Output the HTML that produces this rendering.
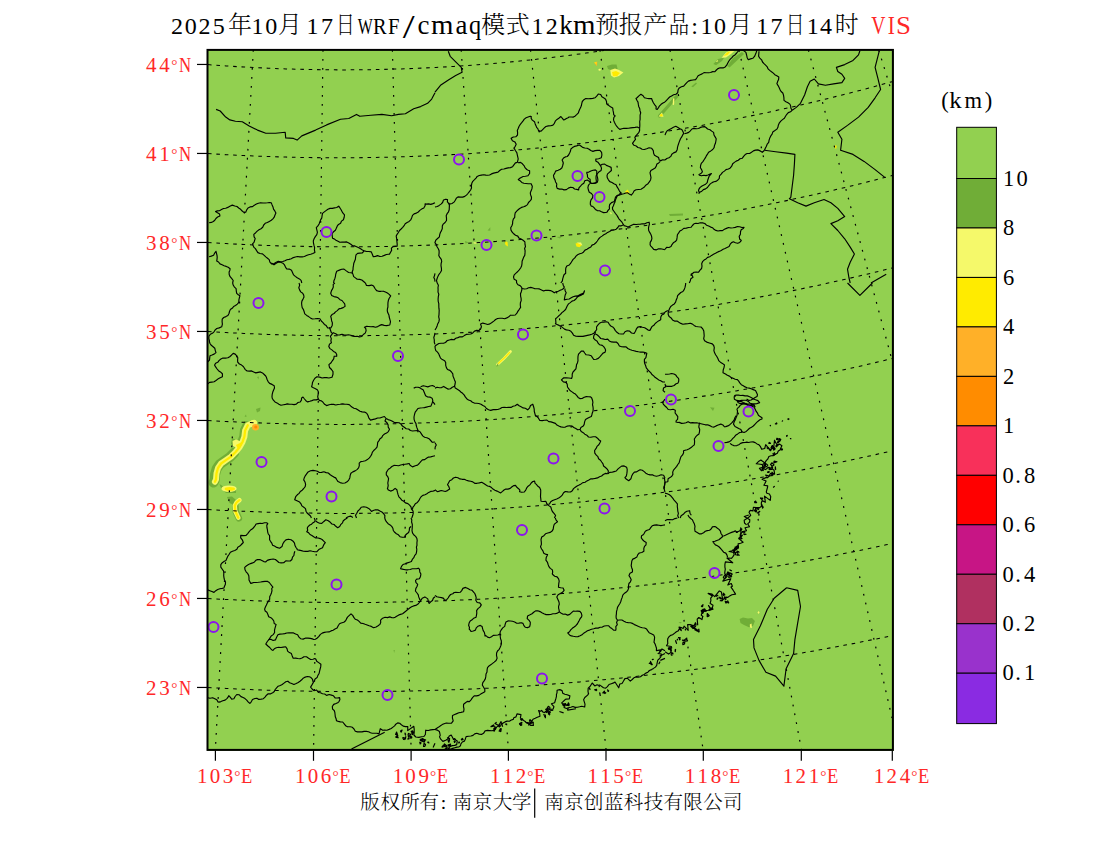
<!DOCTYPE html>
<html><head><meta charset="utf-8"><title>VIS</title>
<style>
html,body{margin:0;padding:0;background:#fff}
body{width:1100px;height:850px;overflow:hidden;position:relative}
svg{position:absolute;left:0;top:0}
text{font-family:"Liberation Serif","Noto Serif CJK SC","Noto Sans CJK SC",serif;font-weight:300}
.t{fill:#000}
.r{fill:#ff2828}
</style></head><body>
<svg width="1100" height="850" viewBox="0 0 1100 850">
<rect x="0" y="0" width="1100" height="850" fill="#fff"/>
<rect x="207" y="49" width="687" height="702" fill="#92d050"/>

<g stroke-linecap="round" stroke-linejoin="round" fill="none">
<polyline points="234.2,452.8 229.6,457.4 224.2,461.2 219.7,464.3 216.6,468.8 215.1,474.2 214.6,480.3 213.5,482.6" stroke="#70ad37" stroke-width="10.0"/>
<polyline points="246.4,424.9 243.7,430.3 243.0,436.4 241.1,441.7 238.0,447.1" stroke="#70ad37" stroke-width="7.5"/>
<polygon points="232.0,438.0 238.0,441.0 244.0,440.0 243.0,446.0 235.0,448.0 231.0,444.0" fill="#70ad37" stroke="none"/>
<polyline points="253.9,422.9 247.8,425.2 245.1,430.6 244.4,436.7 242.5,442.0 239.4,447.4 235.6,452.0 231.0,456.6 225.6,460.4 221.1,463.5 218.0,468.0 216.5,473.4 216.0,479.5 214.9,481.8" stroke="#f5f96a" stroke-width="6.0"/>
<ellipse cx="253.5" cy="422.5" rx="3.5" ry="2.5" fill="#f5f96a" stroke="none"/>
<polygon points="232.5,441.0 236.0,439.5 241.0,441.5 243.0,444.0 238.0,449.0 233.0,446.0" fill="#f5f96a" stroke="none"/>
<polyline points="247.8,425.2 245.1,430.6 244.4,436.7 242.5,442.0 239.4,447.4 235.6,452.0 231.0,456.6 225.6,460.4 221.1,463.5 218.0,468.0 216.5,473.4 216.0,479.5 214.9,481.8" stroke="#ffeb00" stroke-width="2.3"/>
<polygon points="236.0,445.0 241.0,442.5 242.0,445.0 238.0,449.0" fill="#ffeb00" stroke="none"/>
<ellipse cx="255.5" cy="427.3" rx="3.5" ry="3.3" fill="#ffb028" stroke="none"/>
<ellipse cx="255.8" cy="427.0" rx="1.6" ry="1.5" fill="#ff8c00" stroke="none"/>
<polygon points="256.0,409.0 260.5,407.5 260.0,411.0 257.0,412.5" fill="#70ad37" stroke="none"/>
<polygon points="244.5,416.5 246.0,414.5 246.5,417.0" fill="#70ad37" stroke="none"/>
<polygon points="219.5,484.0 224.0,487.0 236.0,489.0 236.0,493.0 226.0,493.0 221.0,488.0" fill="#70ad37" stroke="none"/>
<ellipse cx="229.0" cy="488.7" rx="7.6" ry="3.3" fill="#f5f96a" stroke="none"/>
<ellipse cx="229.8" cy="488.9" rx="5.2" ry="1.8" fill="#ffeb00" stroke="none"/>
<polygon points="227.0,497.0 232.0,496.5 236.0,500.0 234.0,505.0 229.5,503.0" fill="#70ad37" stroke="none"/>
<polyline points="235.4,506.1 235.8,511.6 238.9,518.3" stroke="#70ad37" stroke-width="6.5"/>
<polyline points="239.4,500.2 236.5,502.5 234.8,505.5 235.2,511.0 238.3,517.7" stroke="#f5f96a" stroke-width="4.4"/>
<polyline points="239.4,500.2 236.5,502.5 234.8,505.5 235.2,511.0 238.3,517.7" stroke="#ffeb00" stroke-width="2.2"/>
<polygon points="607.0,66.0 612.0,64.5 616.5,64.4 617.6,69.0 612.0,70.5 608.0,69.0" fill="#70ad37" stroke="none"/>
<polygon points="610.3,70.0 615.0,68.5 619.0,70.0 623.4,72.5 619.0,76.0 614.0,77.5 611.0,75.5" fill="#f5f96a" stroke="none"/>
<polygon points="612.0,72.0 616.0,71.0 620.0,73.0 617.0,76.3 613.0,76.3" fill="#ffeb00" stroke="none"/>
<polygon points="593.9,62.5 597.2,61.4 597.0,66.3" fill="#ffb028" stroke="none"/>
<polygon points="594.5,62.5 596.5,62.0 596.3,64.5" fill="#ffeb00" stroke="none"/>
<ellipse cx="599.6" cy="69.8" rx="1.2" ry="1.0" fill="#f5f96a" stroke="none"/>
<polygon points="742.0,52.0 744.0,54.0 729.5,67.6 727.3,66.0 733.0,58.0" fill="#70ad37" stroke="none"/>
<polygon points="713.4,64.0 718.0,59.0 724.0,57.8 722.0,61.0 716.0,65.2" fill="#70ad37" stroke="none"/>
<polygon points="721.6,57.8 726.0,52.5 730.0,50.8 734.7,50.8 731.0,54.0 726.0,57.5" fill="#f5f96a" stroke="none"/>
<polygon points="723.5,56.0 727.0,52.5 730.5,51.2 727.5,55.0" fill="#ffeb00" stroke="none"/>
<polygon points="715.7,61.8 718.0,59.8 717.6,61.8" fill="#f5f96a" stroke="none"/>
<polygon points="691.3,86.5 696.0,82.4 697.0,83.5 693.0,87.3" fill="#70ad37" stroke="none"/>
<polyline points="677.0,96.0 670.0,104.0 659.5,116.0" stroke="#70ad37" stroke-width="3.2"/>
<polyline points="673.7,99.0 673.4,104.3" stroke="#f5f96a" stroke-width="1.4"/>
<polygon points="658.5,116.5 662.0,112.5 663.5,116.8" fill="#f5f96a" stroke="none"/>
<ellipse cx="661.3" cy="115.3" rx="1.2" ry="1.2" fill="#ffeb00" stroke="none"/>
<polygon points="624.8,192.0 627.5,189.5 629.5,192.5 627.0,194.0" fill="#ffeb00" stroke="none"/>
<polygon points="575.5,243.5 579.0,242.8 582.0,245.0 579.5,247.3 576.5,246.5" fill="#ffeb00" stroke="none"/>
<polygon points="576.5,242.5 581.0,242.5 582.5,245.5" fill="#f5f96a" stroke="none"/>
<polygon points="504.5,241.0 507.5,242.0 508.0,246.5 505.5,245.0" fill="#ffeb00" stroke="none"/>
<polygon points="503.5,240.5 506.0,240.5 505.0,243.0" fill="#70ad37" stroke="none"/>
<polygon points="473.5,242.2 476.8,242.5 476.5,243.8 473.8,243.6" fill="#f5f96a" stroke="none"/>
<polygon points="465.0,241.0 469.0,242.5 465.5,243.5" fill="#70ad37" stroke="none"/>
<polygon points="487.5,230.5 490.3,227.2 490.3,230.8" fill="#70ad37" stroke="none"/>
<polygon points="609.5,212.0 612.0,213.0 611.0,214.5" fill="#f5f96a" stroke="none"/>
<polygon points="556.5,237.0 562.0,236.6 560.0,238.4" fill="#70ad37" stroke="none"/>
<polygon points="470.0,333.5 472.3,331.5 472.0,333.6" fill="#70ad37" stroke="none"/>
<polygon points="669.0,214.0 683.0,213.6 683.0,215.6 670.0,216.0" fill="#70ad37" stroke="none"/>
<polygon points="834.8,145.5 836.6,145.5 836.4,148.6 835.0,148.4" fill="#ffeb00" stroke="none"/>
<polyline points="497.5,364.5 504.0,358.5 510.5,351.5" stroke="#f5f96a" stroke-width="2.6"/>
<polyline points="498.5,363.3 504.5,357.8 509.5,352.5" stroke="#ffeb00" stroke-width="1.3"/>
<polygon points="496.0,366.5 498.0,363.0 498.5,366.0" fill="#70ad37" stroke="none"/>
<polygon points="710.0,407.3 714.5,407.8 713.0,411.0" fill="#70ad37" stroke="none"/>
<polygon points="257.0,377.0 259.0,376.5 258.5,379.5" fill="#70ad37" stroke="none"/>
<polygon points="739.6,619.0 743.0,617.5 748.0,618.5 752.0,618.0 754.9,621.0 753.0,626.0 749.0,627.2 744.0,625.0 740.5,623.0" fill="#70ad37" stroke="none"/>
<polygon points="749.8,624.5 751.5,623.5 752.0,628.0 750.0,627.5" fill="#f5f96a" stroke="none"/>
<polygon points="757.5,612.5 758.6,611.0 759.6,612.6 758.5,614.0" fill="#f5f96a" stroke="none"/>
<polygon points="678.5,622.0 682.0,622.0 680.3,623.6" fill="#70ad37" stroke="none"/>
<polygon points="393.5,650.0 394.8,650.0 394.2,653.0" fill="#70ad37" stroke="none"/>
</g>
<g fill="none" stroke="#000" stroke-width="1.05" stroke-dasharray="3.6,4.8">
<polyline points="208.0,64.6 214.0,65.1 220.0,65.5 226.0,65.9 232.0,66.3 238.0,66.7 244.0,67.0 250.0,67.3 256.0,67.7 262.0,67.9 268.0,68.2 274.0,68.5 280.0,68.7 286.0,68.9 292.0,69.1 298.0,69.3 304.0,69.4 310.0,69.5 316.0,69.6 322.0,69.7 328.0,69.8 334.0,69.8 340.0,69.9 346.0,69.9 352.0,69.8 358.0,69.8 364.0,69.7 370.0,69.7 376.0,69.6 382.0,69.4 388.0,69.3 394.0,69.1 400.0,69.0 406.0,68.8 412.0,68.5 418.0,68.3 424.0,68.0 430.0,67.7 436.0,67.4 442.0,67.1 448.0,66.8 454.0,66.4 460.0,66.0 466.0,65.6 472.0,65.2 478.0,64.7 484.0,64.3 490.0,63.8 496.0,63.3 502.0,62.7 508.0,62.2 514.0,61.6 520.0,61.0 526.0,60.4 532.0,59.8 538.0,59.1 544.0,58.4 550.0,57.7 556.0,57.0 562.0,56.3 568.0,55.5 574.0,54.7 580.0,53.9 586.0,53.1 592.0,52.3 598.0,51.4 604.0,50.5"/>
<polyline points="208.0,153.6 214.0,154.0 220.0,154.3 226.0,154.7 232.0,155.0 238.0,155.3 244.0,155.6 250.0,155.8 256.0,156.1 262.0,156.3 268.0,156.5 274.0,156.7 280.0,156.9 286.0,157.1 292.0,157.2 298.0,157.4 304.0,157.5 310.0,157.6 316.0,157.6 322.0,157.7 328.0,157.7 334.0,157.8 340.0,157.8 346.0,157.7 352.0,157.7 358.0,157.7 364.0,157.6 370.0,157.5 376.0,157.4 382.0,157.3 388.0,157.2 394.0,157.0 400.0,156.8 406.0,156.7 412.0,156.4 418.0,156.2 424.0,156.0 430.0,155.7 436.0,155.4 442.0,155.2 448.0,154.8 454.0,154.5 460.0,154.2 466.0,153.8 472.0,153.4 478.0,153.0 484.0,152.6 490.0,152.2 496.0,151.7 502.0,151.2 508.0,150.8 514.0,150.2 520.0,149.7 526.0,149.2 532.0,148.6 538.0,148.0 544.0,147.4 550.0,146.8 556.0,146.2 562.0,145.6 568.0,144.9 574.0,144.2 580.0,143.5 586.0,142.8 592.0,142.0 598.0,141.3 604.0,140.5 610.0,139.7 616.0,138.9 622.0,138.1 628.0,137.2 634.0,136.4 640.0,135.5 646.0,134.6 652.0,133.7 658.0,132.7 664.0,131.8 670.0,130.8 676.0,129.8 682.0,128.8 688.0,127.8 694.0,126.7 700.0,125.7 706.0,124.6 712.0,123.5 718.0,122.4 724.0,121.2 730.0,120.1 736.0,118.9 742.0,117.7 748.0,116.5 754.0,115.3 760.0,114.0 766.0,112.7 772.0,111.5 778.0,110.1 784.0,108.8 790.0,107.5 796.0,106.1 802.0,104.7 808.0,103.3 814.0,101.9 820.0,100.5 826.0,99.0 832.0,97.5 838.0,96.0 844.0,94.5 850.0,93.0 856.0,91.4 862.0,89.9 868.0,88.3 874.0,86.7 880.0,85.0 886.0,83.4 892.0,81.7 892.0,81.7"/>
<polyline points="208.0,242.5 214.0,242.9 220.0,243.2 226.0,243.6 232.0,243.9 238.0,244.2 244.0,244.5 250.0,244.8 256.0,245.0 262.0,245.3 268.0,245.5 274.0,245.7 280.0,245.9 286.0,246.0 292.0,246.2 298.0,246.3 304.0,246.4 310.0,246.6 316.0,246.6 322.0,246.7 328.0,246.8 334.0,246.8 340.0,246.8 346.0,246.8 352.0,246.8 358.0,246.8 364.0,246.7 370.0,246.7 376.0,246.6 382.0,246.5 388.0,246.4 394.0,246.2 400.0,246.1 406.0,245.9 412.0,245.7 418.0,245.5 424.0,245.3 430.0,245.1 436.0,244.9 442.0,244.6 448.0,244.3 454.0,244.0 460.0,243.7 466.0,243.4 472.0,243.0 478.0,242.6 484.0,242.3 490.0,241.9 496.0,241.4 502.0,241.0 508.0,240.5 514.0,240.1 520.0,239.6 526.0,239.1 532.0,238.6 538.0,238.0 544.0,237.5 550.0,236.9 556.0,236.3 562.0,235.7 568.0,235.1 574.0,234.5 580.0,233.8 586.0,233.1 592.0,232.4 598.0,231.7 604.0,231.0 610.0,230.3 616.0,229.5 622.0,228.7 628.0,227.9 634.0,227.1 640.0,226.3 646.0,225.5 652.0,224.6 658.0,223.7 664.0,222.8 670.0,221.9 676.0,221.0 682.0,220.0 688.0,219.1 694.0,218.1 700.0,217.1 706.0,216.0 712.0,215.0 718.0,214.0 724.0,212.9 730.0,211.8 736.0,210.7 742.0,209.6 748.0,208.4 754.0,207.3 760.0,206.1 766.0,204.9 772.0,203.7 778.0,202.4 784.0,201.2 790.0,199.9 796.0,198.6 802.0,197.3 808.0,196.0 814.0,194.7 820.0,193.3 826.0,191.9 832.0,190.5 838.0,189.1 844.0,187.7 850.0,186.3 856.0,184.8 862.0,183.3 868.0,181.8 874.0,180.3 880.0,178.7 886.0,177.2 892.0,175.6 892.0,175.6"/>
<polyline points="208.0,331.5 214.0,331.9 220.0,332.2 226.0,332.5 232.0,332.9 238.0,333.1 244.0,333.4 250.0,333.7 256.0,333.9 262.0,334.2 268.0,334.4 274.0,334.6 280.0,334.8 286.0,334.9 292.0,335.1 298.0,335.2 304.0,335.4 310.0,335.5 316.0,335.5 322.0,335.6 328.0,335.7 334.0,335.7 340.0,335.7 346.0,335.7 352.0,335.7 358.0,335.7 364.0,335.7 370.0,335.6 376.0,335.5 382.0,335.5 388.0,335.3 394.0,335.2 400.0,335.1 406.0,334.9 412.0,334.8 418.0,334.6 424.0,334.4 430.0,334.2 436.0,333.9 442.0,333.7 448.0,333.4 454.0,333.1 460.0,332.8 466.0,332.5 472.0,332.2 478.0,331.8 484.0,331.5 490.0,331.1 496.0,330.7 502.0,330.3 508.0,329.9 514.0,329.4 520.0,329.0 526.0,328.5 532.0,328.0 538.0,327.5 544.0,326.9 550.0,326.4 556.0,325.8 562.0,325.3 568.0,324.7 574.0,324.1 580.0,323.4 586.0,322.8 592.0,322.2 598.0,321.5 604.0,320.8 610.0,320.1 616.0,319.4 622.0,318.6 628.0,317.9 634.0,317.1 640.0,316.3 646.0,315.5 652.0,314.7 658.0,313.8 664.0,313.0 670.0,312.1 676.0,311.2 682.0,310.3 688.0,309.4 694.0,308.5 700.0,307.5 706.0,306.5 712.0,305.6 718.0,304.5 724.0,303.5 730.0,302.5 736.0,301.4 742.0,300.4 748.0,299.3 754.0,298.2 760.0,297.0 766.0,295.9 772.0,294.7 778.0,293.6 784.0,292.4 790.0,291.2 796.0,290.0 802.0,288.7 808.0,287.4 814.0,286.2 820.0,284.9 826.0,283.6 832.0,282.2 838.0,280.9 844.0,279.5 850.0,278.2 856.0,276.8 862.0,275.3 868.0,273.9 874.0,272.5 880.0,271.0 886.0,269.5 892.0,268.0 892.0,268.0"/>
<polyline points="208.0,420.5 214.0,420.8 220.0,421.2 226.0,421.5 232.0,421.8 238.0,422.0 244.0,422.3 250.0,422.5 256.0,422.8 262.0,423.0 268.0,423.2 274.0,423.4 280.0,423.5 286.0,423.7 292.0,423.8 298.0,424.0 304.0,424.1 310.0,424.2 316.0,424.2 322.0,424.3 328.0,424.3 334.0,424.4 340.0,424.4 346.0,424.4 352.0,424.4 358.0,424.3 364.0,424.3 370.0,424.2 376.0,424.1 382.0,424.0 388.0,423.9 394.0,423.8 400.0,423.7 406.0,423.5 412.0,423.3 418.0,423.1 424.0,422.9 430.0,422.7 436.0,422.5 442.0,422.2 448.0,422.0 454.0,421.7 460.0,421.4 466.0,421.1 472.0,420.8 478.0,420.4 484.0,420.1 490.0,419.7 496.0,419.3 502.0,418.9 508.0,418.5 514.0,418.0 520.0,417.6 526.0,417.1 532.0,416.6 538.0,416.1 544.0,415.6 550.0,415.1 556.0,414.6 562.0,414.0 568.0,413.4 574.0,412.8 580.0,412.2 586.0,411.6 592.0,411.0 598.0,410.3 604.0,409.6 610.0,408.9 616.0,408.2 622.0,407.5 628.0,406.8 634.0,406.0 640.0,405.3 646.0,404.5 652.0,403.7 658.0,402.9 664.0,402.1 670.0,401.2 676.0,400.4 682.0,399.5 688.0,398.6 694.0,397.7 700.0,396.7 706.0,395.8 712.0,394.9 718.0,393.9 724.0,392.9 730.0,391.9 736.0,390.9 742.0,389.8 748.0,388.8 754.0,387.7 760.0,386.6 766.0,385.5 772.0,384.4 778.0,383.3 784.0,382.1 790.0,381.0 796.0,379.8 802.0,378.6 808.0,377.4 814.0,376.1 820.0,374.9 826.0,373.6 832.0,372.3 838.0,371.0 844.0,369.7 850.0,368.4 856.0,367.0 862.0,365.7 868.0,364.3 874.0,362.9 880.0,361.5 886.0,360.0 892.0,358.6 892.0,358.6"/>
<polyline points="208.0,509.5 214.0,509.8 220.0,510.2 226.0,510.5 232.0,510.7 238.0,511.0 244.0,511.3 250.0,511.5 256.0,511.7 262.0,512.0 268.0,512.2 274.0,512.3 280.0,512.5 286.0,512.7 292.0,512.8 298.0,512.9 304.0,513.0 310.0,513.1 316.0,513.2 322.0,513.3 328.0,513.3 334.0,513.4 340.0,513.4 346.0,513.4 352.0,513.4 358.0,513.4 364.0,513.3 370.0,513.3 376.0,513.2 382.0,513.1 388.0,513.0 394.0,512.9 400.0,512.8 406.0,512.6 412.0,512.5 418.0,512.3 424.0,512.1 430.0,511.9 436.0,511.7 442.0,511.5 448.0,511.2 454.0,510.9 460.0,510.7 466.0,510.4 472.0,510.1 478.0,509.8 484.0,509.4 490.0,509.1 496.0,508.7 502.0,508.3 508.0,507.9 514.0,507.5 520.0,507.1 526.0,506.6 532.0,506.2 538.0,505.7 544.0,505.2 550.0,504.7 556.0,504.2 562.0,503.7 568.0,503.1 574.0,502.6 580.0,502.0 586.0,501.4 592.0,500.8 598.0,500.2 604.0,499.5 610.0,498.9 616.0,498.2 622.0,497.5 628.0,496.8 634.0,496.1 640.0,495.4 646.0,494.7 652.0,493.9 658.0,493.1 664.0,492.3 670.0,491.5 676.0,490.7 682.0,489.9 688.0,489.0 694.0,488.2 700.0,487.3 706.0,486.4 712.0,485.5 718.0,484.5 724.0,483.6 730.0,482.6 736.0,481.7 742.0,480.7 748.0,479.7 754.0,478.7 760.0,477.6 766.0,476.6 772.0,475.5 778.0,474.4 784.0,473.3 790.0,472.2 796.0,471.1 802.0,470.0 808.0,468.8 814.0,467.6 820.0,466.4 826.0,465.2 832.0,464.0 838.0,462.8 844.0,461.5 850.0,460.2 856.0,458.9 862.0,457.6 868.0,456.3 874.0,455.0 880.0,453.6 886.0,452.3 892.0,450.9 892.0,450.9"/>
<polyline points="208.0,598.5 214.0,598.8 220.0,599.2 226.0,599.5 232.0,599.7 238.0,600.0 244.0,600.3 250.0,600.5 256.0,600.8 262.0,601.0 268.0,601.2 274.0,601.4 280.0,601.5 286.0,601.7 292.0,601.8 298.0,602.0 304.0,602.1 310.0,602.2 316.0,602.3 322.0,602.4 328.0,602.4 334.0,602.5 340.0,602.5 346.0,602.5 352.0,602.5 358.0,602.5 364.0,602.5 370.0,602.4 376.0,602.4 382.0,602.3 388.0,602.2 394.0,602.1 400.0,602.0 406.0,601.9 412.0,601.8 418.0,601.6 424.0,601.4 430.0,601.3 436.0,601.1 442.0,600.8 448.0,600.6 454.0,600.4 460.0,600.1 466.0,599.9 472.0,599.6 478.0,599.3 484.0,599.0 490.0,598.6 496.0,598.3 502.0,597.9 508.0,597.6 514.0,597.2 520.0,596.8 526.0,596.4 532.0,595.9 538.0,595.5 544.0,595.0 550.0,594.6 556.0,594.1 562.0,593.6 568.0,593.1 574.0,592.6 580.0,592.0 586.0,591.4 592.0,590.9 598.0,590.3 604.0,589.7 610.0,589.1 616.0,588.4 622.0,587.8 628.0,587.1 634.0,586.5 640.0,585.8 646.0,585.1 652.0,584.4 658.0,583.6 664.0,582.9 670.0,582.1 676.0,581.3 682.0,580.6 688.0,579.7 694.0,578.9 700.0,578.1 706.0,577.2 712.0,576.4 718.0,575.5 724.0,574.6 730.0,573.7 736.0,572.8 742.0,571.8 748.0,570.9 754.0,569.9 760.0,568.9 766.0,567.9 772.0,566.9 778.0,565.9 784.0,564.8 790.0,563.8 796.0,562.7 802.0,561.6 808.0,560.5 814.0,559.4 820.0,558.3 826.0,557.1 832.0,556.0 838.0,554.8 844.0,553.6 850.0,552.4 856.0,551.2 862.0,549.9 868.0,548.7 874.0,547.4 880.0,546.1 886.0,544.8 892.0,543.5 892.0,543.5"/>
<polyline points="208.0,687.5 214.0,687.8 220.0,688.1 226.0,688.4 232.0,688.7 238.0,689.0 244.0,689.3 250.0,689.5 256.0,689.8 262.0,690.0 268.0,690.2 274.0,690.4 280.0,690.6 286.0,690.7 292.0,690.9 298.0,691.0 304.0,691.1 310.0,691.2 316.0,691.3 322.0,691.4 328.0,691.5 334.0,691.5 340.0,691.6 346.0,691.6 352.0,691.6 358.0,691.6 364.0,691.6 370.0,691.6 376.0,691.5 382.0,691.5 388.0,691.4 394.0,691.3 400.0,691.2 406.0,691.1 412.0,691.0 418.0,690.8 424.0,690.7 430.0,690.5 436.0,690.3 442.0,690.2 448.0,689.9 454.0,689.7 460.0,689.5 466.0,689.2 472.0,689.0 478.0,688.7 484.0,688.4 490.0,688.1 496.0,687.8 502.0,687.5 508.0,687.1 514.0,686.7 520.0,686.4 526.0,686.0 532.0,685.6 538.0,685.2 544.0,684.7 550.0,684.3 556.0,683.8 562.0,683.4 568.0,682.9 574.0,682.4 580.0,681.9 586.0,681.3 592.0,680.8 598.0,680.2 604.0,679.7 610.0,679.1 616.0,678.5 622.0,677.9 628.0,677.3 634.0,676.6 640.0,676.0 646.0,675.3 652.0,674.6 658.0,673.9 664.0,673.2 670.0,672.5 676.0,671.8 682.0,671.0 688.0,670.2 694.0,669.5 700.0,668.7 706.0,667.9 712.0,667.0 718.0,666.2 724.0,665.3 730.0,664.5 736.0,663.6 742.0,662.7 748.0,661.8 754.0,660.9 760.0,659.9 766.0,659.0 772.0,658.0 778.0,657.1 784.0,656.1 790.0,655.0 796.0,654.0 802.0,653.0 808.0,651.9 814.0,650.9 820.0,649.8 826.0,648.7 832.0,647.6 838.0,646.5 844.0,645.3 850.0,644.2 856.0,643.0 862.0,641.8 868.0,640.6 874.0,639.4 880.0,638.2 886.0,637.0 892.0,635.7 892.0,635.7"/>
</g><g fill="none" stroke="#000" stroke-width="1.2" stroke-dasharray="1.8,7.2">
<polyline points="253.3,50.0 215.4,749.0"/>
<polyline points="323.0,50.0 313.6,749.0"/>
<polyline points="392.4,50.0 411.1,749.0"/>
<polyline points="461.2,50.0 508.3,749.0"/>
<polyline points="530.5,50.0 606.0,749.0"/>
<polyline points="599.9,50.0 703.0,749.0"/>
<polyline points="670.0,50.0 801.3,749.0"/>
<polyline points="739.0,50.0 892.0,718.0"/>
<polyline points="808.4,50.0 892.0,360.2"/>
<polyline points="878.7,50.0 892.0,92.9"/>
</g>
<g fill="none" stroke="#000" stroke-width="1.15" stroke-linejoin="round">
<polyline points="216.1,109.4 220.2,111.0 225.7,117.1 229.9,119.9 235.4,121.3 242.3,121.8 249.2,126.0 257.5,130.1 265.8,133.2 275.5,133.2 285.2,132.3 285.7,137.9 293.5,138.4 297.1,140.1 301.8,135.9 315.6,130.1 326.6,124.9 340.5,119.3 348.8,118.5 356.5,114.4 359.8,116.3 370.9,115.2 381.9,114.4 391.6,115.7 398.5,114.4 405.4,113.8 413.7,108.8 420.6,106.6 427.6,103.3 431.7,99.1 435.0,92.8"/>
<polyline points="209.1,222.7 211.3,222.4 213.3,221.5 214.8,220.2 215.9,218.5 217.6,217.0 219.9,215.9 219.6,214.0 217.5,212.8 215.5,211.5 217.3,210.9 219.5,210.7 221.5,209.6 223.5,208.5 225.7,208.2 227.8,207.4 229.8,206.2 232.3,205.1 234.8,206.0 237.0,206.5 238.7,208.0 240.6,209.3 242.2,211.0 243.9,212.4 245.7,212.3 246.7,209.9 248.0,208.0 250.0,206.9 252.5,206.6 254.3,205.2 256.4,204.1 258.4,203.2 260.6,202.7 263.0,203.0 265.3,203.0 267.5,202.8 269.7,202.5 271.3,202.9 272.1,204.9 273.0,206.9 273.5,209.1 274.8,210.9 275.9,213.0 274.9,215.2 274.2,217.2 272.9,218.9 271.3,220.3 269.3,221.4 267.3,222.5 265.2,223.3 263.7,225.0 262.7,227.3 261.0,228.7 259.0,229.8 257.2,231.1 255.7,232.7 253.8,234.4 254.1,236.9 255.2,238.5 254.7,240.1 254.0,242.3 252.5,243.9 253.2,245.7 254.0,247.4 255.4,248.6 256.6,250.6 257.9,252.6 260.0,253.5 262.5,253.9 264.2,255.4 265.8,256.9 267.5,258.2 269.2,259.6 269.9,262.2 271.7,264.0 274.2,263.5 276.2,262.3 278.3,261.4 280.6,261.8 282.8,261.5 284.9,260.7 286.9,259.7 289.1,259.4 291.3,258.8 293.3,257.6 295.4,257.0 297.5,256.5 299.9,256.9 302.2,256.9 304.4,256.5 306.4,255.6 308.5,254.7 310.7,254.3 312.8,253.5 314.9,252.4 314.4,249.8 314.6,247.6 314.0,245.4 313.5,243.1 313.3,240.9 314.1,238.7 315.3,236.6 316.8,234.6 317.4,232.4 316.9,230.1 316.3,227.7 317.9,225.9 319.1,224.0 319.8,221.9 320.6,219.9 321.8,217.9 322.1,215.7 322.5,213.4 324.3,211.9 326.0,210.6 327.9,209.3 330.0,208.4 332.3,208.4 334.5,207.9 336.7,207.5 338.7,206.2 339.8,207.7 341.1,209.7 342.0,211.4 342.8,212.9 344.5,214.8 344.2,217.3 343.4,219.7 341.5,221.1 340.6,223.2 338.5,224.4 337.2,226.2 336.3,228.3 335.4,230.2 333.5,231.8 332.0,233.7 332.3,236.2 332.5,238.3 334.2,238.9 336.0,240.2 338.0,241.2 339.9,242.3 342.2,242.0 344.4,242.1 346.7,241.9 348.8,243.0 350.8,244.2 352.6,245.7 354.8,245.9 356.7,246.8 358.8,247.7 360.6,248.8 362.4,250.0 364.4,250.9 366.5,251.5 368.8,251.5 371.3,251.9 372.4,254.5 373.3,256.7 375.5,256.4 377.6,255.6 379.9,256.5 382.1,256.2 384.3,255.4 386.4,254.5 388.4,254.2 389.5,254.1 390.4,252.5 391.6,250.4 391.4,248.1 392.9,246.8 395.1,246.4 397.1,246.2 397.2,244.1 397.0,242.4 396.8,240.4 396.6,238.1 396.2,236.1 397.1,234.3 398.4,232.5 399.5,230.5 401.1,229.0 402.7,227.4 404.1,225.7 405.2,223.8 407.1,222.5 409.1,221.4 410.7,219.9 411.7,217.7 412.5,215.4 414.1,213.9 416.4,213.1 418.3,212.0 419.8,210.4 421.6,209.1 423.8,208.0 425.1,205.8 425.1,203.8 426.4,204.1 428.6,203.9 430.8,204.4 433.0,203.6 435.0,202.8"/>
<polyline points="271.4,263.1 274.0,264.8 275.8,263.6 278.3,262.1 280.6,262.3 282.9,263.2 284.5,264.9 285.5,267.1 286.7,269.0 289.3,269.1 291.5,270.2 292.6,272.7 293.6,274.9 295.3,276.4 297.2,277.8 299.4,278.9 301.1,280.4 301.8,283.0"/>
<polyline points="364.0,251.2 362.2,253.0 359.9,253.1 357.6,253.4 356.0,254.9 355.6,257.0 355.4,259.3 354.6,261.3 353.8,263.2 353.5,265.4 353.1,267.6 353.0,269.8 352.1,272.2 353.0,274.4 353.7,276.6 355.4,277.9 357.2,279.3 359.7,279.4 361.8,280.0 363.6,281.5 365.4,283.0"/>
<polyline points="333.6,283.0 333.9,280.8 334.8,278.7 335.4,276.6 335.7,274.3 336.7,271.3 339.4,270.1 341.7,269.3 344.0,269.1 346.3,270.9 348.6,272.5 350.7,272.7 352.9,273.3"/>
<polyline points="209.1,256.7 211.3,256.1 213.6,255.3 214.7,253.1 216.0,251.3 216.5,253.3 217.0,255.4 217.2,257.2 217.0,259.3 216.7,261.0 218.5,262.0 220.0,263.9 222.1,264.7 224.1,265.8 226.2,266.4 228.2,267.3 230.1,268.7 229.9,270.2 229.1,272.0 229.2,274.5 230.1,276.7 231.8,278.6 233.2,280.5 232.6,283.0"/>
<polyline points="435.0,273.3 434.5,275.6 433.8,277.5 434.7,279.2 435.0,281.6"/>
<polyline points="435.0,92.2 440.5,85.3 448.8,79.8 455.7,75.6 462.1,72.3 461.3,67.4 455.7,61.8 450.2,56.3 448.3,51.3"/>
<polyline points="435.0,207.0 437.3,206.5 439.2,205.4 441.0,204.1 442.6,202.5 443.5,200.0 445.8,199.2 447.5,199.6 447.4,201.9 449.3,204.1 452.0,203.5 454.0,202.1 455.3,200.2 456.3,198.2 458.0,196.9 460.4,197.1 462.7,197.1 464.8,196.4 466.7,194.9 467.9,193.5 469.2,191.8 470.6,190.0 471.5,188.0 471.4,185.6 471.8,183.3 472.8,181.3 474.5,179.7 476.0,178.1 477.2,176.4 479.2,175.5 481.4,175.1 483.7,174.8 485.9,175.1 487.6,175.2 489.6,175.0 491.5,173.9 493.6,173.1 495.8,172.6 498.0,172.1 499.7,170.5 501.6,169.2 503.9,169.0 506.0,168.4 508.1,167.9 510.4,167.6 512.6,166.7 513.9,164.9 515.4,162.9 517.3,162.4 517.8,160.6 518.2,158.8 517.8,157.1 517.3,154.9 516.8,152.6 515.5,150.7 514.6,149.0 513.9,148.2 515.1,146.6 516.2,144.2 514.9,141.9 512.4,140.7 511.1,138.3 513.3,137.0 515.8,136.8 517.5,135.0 517.6,132.6 517.3,130.4 518.3,128.3 519.1,126.2 520.3,124.4 521.7,122.7 523.1,120.9 524.3,119.1 526.1,117.8 528.1,117.0 530.2,116.2 531.3,116.5 531.1,118.2 532.3,120.1 534.5,121.7 535.2,123.9 536.1,125.9 536.6,127.4 537.8,128.6 538.7,131.1 541.1,131.1 542.9,129.3 544.3,127.9 545.9,126.5 548.3,125.9 550.8,125.7 552.9,125.1 554.4,123.3 555.5,120.8 557.0,119.4 558.8,118.2 560.9,116.5 562.6,118.6 563.6,119.9 564.5,119.8 566.4,118.5 568.1,117.7 569.0,117.0 571.2,117.0 573.4,117.1 575.3,115.9 576.9,114.4 578.4,112.9 578.8,111.5 579.5,109.7 580.6,107.6 581.4,105.5 581.8,103.4 582.3,101.5 583.9,99.7 585.8,98.5 588.4,98.8 590.6,98.6 592.8,98.4 595.0,97.8 596.7,96.2 598.3,94.0 600.7,94.5 601.9,96.8 603.9,97.9 605.6,99.3 606.5,101.5 606.7,104.0 608.6,105.4 610.5,106.8 612.7,107.9 613.0,110.4 613.5,112.6 613.7,114.8 615.2,115.9 613.9,117.3 613.5,119.6 613.7,120.4 614.4,122.3 615.4,124.3 616.6,126.2 618.1,127.8 619.8,129.4 621.9,128.7 624.0,128.2 626.3,128.4 628.5,128.3 630.7,127.9 632.9,127.6 635.1,127.4 637.3,127.0 639.6,128.2"/>
<polyline points="639.6,128.2 639.8,126.0 639.8,123.7 639.7,121.5 640.1,119.5 640.1,117.3 640.1,115.1 640.7,112.8 640.0,110.7 639.7,108.5 638.7,106.4 638.3,104.2 638.0,102.1 636.9,100.3 636.0,98.5 637.3,97.5 638.9,95.9 640.9,94.3 643.1,95.8 644.4,97.8 646.6,98.3 648.9,98.6 651.6,98.5 652.5,101.1 653.5,103.0 654.8,104.8 656.2,106.6 656.0,109.0 657.2,109.5 658.5,107.6 659.6,105.8 661.1,104.3 663.0,103.0 665.0,101.9"/>
<polyline points="639.6,128.2 639.6,130.5 638.8,132.6 637.4,134.2 635.9,135.9 634.8,137.3 635.5,139.4 633.9,141.4 632.5,143.4 634.0,145.3 636.2,146.0 637.9,147.5 640.1,148.0 642.1,149.3 644.3,149.5 646.7,148.8 649.1,147.8 651.7,148.3 653.3,150.6 653.6,153.3 654.5,155.2 656.7,156.4 658.6,157.6 659.2,160.0 660.9,160.6 662.7,159.8 665.0,160.0"/>
<polyline points="660.3,161.4 658.7,162.9 656.9,164.0 656.2,166.3 655.1,168.1 653.1,169.3 650.9,170.6 650.0,172.7 650.5,175.2 651.0,177.6 650.6,179.7 649.5,181.7 648.0,183.7 646.1,184.9 644.6,186.7 642.9,188.1 641.0,189.2 638.6,189.5 636.1,189.8 634.2,190.8 633.0,193.0 631.3,195.1 629.1,193.9 627.5,192.8 625.8,193.0 623.8,193.8 621.7,194.2 619.6,195.0 617.4,195.6 616.4,197.7 615.5,199.7 615.0,201.9 614.1,203.8 613.4,205.8 612.4,207.7 612.7,209.7 614.1,211.5 615.3,213.3 616.7,215.0 617.8,216.9 618.9,218.8 620.3,220.3 621.7,221.8 622.9,223.7 624.1,225.6 626.2,226.3 628.1,227.0 629.7,226.2 631.6,225.2 633.8,224.2 636.2,224.5 638.3,224.2 640.5,224.1 642.6,223.8 644.9,223.8 646.9,222.7 649.1,222.2 649.4,224.2 648.8,226.3 648.5,228.2 648.7,230.5 649.7,232.4 650.8,234.3 651.6,236.4 651.9,238.6 651.3,240.6 650.2,242.4 650.1,244.7 650.6,245.8 652.1,247.3 653.7,249.4 656.1,249.9 658.5,248.8 660.7,248.8 662.9,249.3 665.0,249.8"/>
<polyline points="553.9,177.9 553.5,175.3 554.7,173.4 555.6,171.1 558.2,170.3 560.3,169.2 562.0,167.7 562.7,165.5 563.3,163.0 562.7,161.3 562.1,160.0 563.5,158.1 565.3,156.9 567.2,156.5 568.6,155.0 569.6,153.0 570.5,151.0 570.9,149.0 572.5,147.6 574.4,146.4 576.6,145.9 578.5,145.2 579.4,145.0 580.9,146.0 582.6,147.4 584.8,148.0 587.2,148.3 589.1,149.2 590.8,150.5 592.9,151.4 595.1,150.6 597.4,150.4 599.9,150.4 601.6,152.3 601.9,155.0 601.3,157.7 598.6,158.8 595.8,159.1 595.8,160.9 597.9,162.2 599.2,163.9 600.6,165.8 601.5,168.1 601.1,170.5 598.7,172.1 597.1,174.0 596.1,176.1 596.0,178.4 596.3,180.7 596.3,182.6 594.9,183.1 592.8,183.5 590.6,183.3 589.3,181.4 587.3,180.0 584.8,180.8 583.8,183.2 581.9,184.5 580.5,186.2 578.9,187.9 578.6,190.0 576.8,189.4 574.6,189.0 572.8,187.5 570.5,187.2 568.4,188.1 566.4,189.6 564.0,189.9 561.8,189.0 559.6,189.1 557.2,188.4 556.5,186.3 556.8,184.0 555.6,182.0 555.0,179.9 553.9,177.9"/>
<polyline points="586.5,172.4 588.8,172.1 590.9,171.0 593.0,170.2 595.4,169.9 596.8,171.1 596.7,173.4 597.0,175.6 597.6,177.9 597.9,180.1 597.3,182.3 595.8,182.9 593.5,183.4 591.2,183.4 590.2,181.5 590.1,179.3 588.6,178.5 587.5,177.0 587.4,174.7 586.5,172.4"/>
<polyline points="600.3,165.5 602.3,164.3 604.7,164.1 606.4,165.4 608.6,166.3 611.1,167.4 611.4,170.5 609.3,172.4 607.6,173.9 607.0,175.6 607.3,177.8 608.4,179.8 609.8,181.6 612.0,182.5 613.9,183.7 616.1,184.7 617.1,186.9 618.3,188.8 619.3,190.7 620.7,192.9 619.2,194.7 617.0,195.6 615.5,197.2 614.9,199.3 614.3,201.5 611.5,202.6 609.7,204.5 609.3,206.6 609.5,208.9 607.9,210.5 607.2,211.9 605.9,212.5 603.6,212.6 601.5,211.8 599.6,210.8 597.3,210.6 595.4,209.4 594.0,207.7 592.6,206.3 591.3,206.2 590.3,204.2 590.4,202.0 591.0,199.8 592.5,197.8 592.9,195.5 591.5,193.5 589.3,192.2 588.4,190.0 587.9,187.7 588.4,185.4 589.8,183.5"/>
<polyline points="517.9,162.7 520.6,162.4 522.4,163.8 524.0,165.6 525.2,167.9 526.8,169.5 528.2,170.2 529.6,170.7 529.6,173.5 528.0,175.7 525.4,176.2 523.1,176.5 521.2,177.5 519.4,178.6 518.3,179.5 518.4,179.7 520.2,180.8 521.8,182.4 523.8,183.3 526.0,183.5 528.2,183.8 531.1,183.7 532.3,186.3 531.9,188.9 530.9,191.3 530.3,192.9 530.6,194.9 531.5,197.3 531.3,199.4 530.1,200.9 528.5,202.5 527.5,204.6 525.8,205.9 523.7,206.7 521.5,207.4 519.7,208.5 518.4,209.5 516.7,211.1 515.2,212.9 514.8,215.1 514.7,217.4 513.3,219.2 512.7,221.3 512.6,223.6 511.9,225.7 510.7,227.8 511.0,230.1 512.2,232.2 513.7,233.8 515.5,235.3 517.8,236.1 518.9,238.1 521.1,239.1 523.1,240.3 524.9,241.9 525.0,244.4 525.5,246.6 524.6,248.5 525.1,250.7 525.0,252.9 524.8,255.2 523.7,257.1 522.9,259.2 522.1,261.3 522.0,263.7 521.6,266.0 520.6,268.0 519.2,269.8 517.8,271.5 516.0,273.1 514.2,274.8 513.5,277.0 514.2,279.3 516.5,280.4 516.6,283.0"/>
<polyline points="623.0,224.9 620.8,225.9 618.9,225.7 617.8,227.5 616.2,229.2 614.0,230.0 611.5,230.2 609.6,231.4 607.6,232.4 605.8,233.8 603.8,234.8 602.0,236.1 600.1,237.4 598.6,239.0 597.3,241.0 595.9,242.8 594.2,244.2 592.0,245.1 590.8,247.0 588.8,248.1 587.0,249.3 585.0,250.1 583.4,252.2 581.7,253.2 579.7,253.8 577.6,254.8 576.0,256.1 574.8,257.9 573.1,259.4 571.9,261.3 570.7,263.2 569.3,265.0 566.8,266.0 565.8,268.0 565.6,270.6 565.7,273.2 564.0,274.7 563.3,276.8 562.7,278.9 562.3,281.1 560.8,283.0"/>
<polyline points="448.8,202.8 449.4,205.3 449.3,207.5 449.2,209.8 448.5,211.8 447.1,213.7 446.2,215.8 446.5,218.1 446.5,220.5 445.1,222.5 443.2,224.1 442.3,226.1 442.3,228.5 441.5,230.6 440.4,232.5 439.7,234.6 439.4,236.9 437.6,238.5 435.8,240.2 434.9,242.6 436.4,244.7 437.0,246.8 438.3,248.7 439.1,250.8 439.1,253.1 438.8,255.5 439.8,257.4 441.3,259.3 441.7,261.5 441.1,263.7 441.0,265.7 441.4,268.1 441.5,270.5 440.4,272.5 439.0,274.3 437.9,276.4 437.1,278.5 436.5,280.6 437.2,283.0"/>
<polyline points="759.0,51.3 758.8,53.7 758.6,56.2 759.8,58.1 761.6,59.8 762.5,62.0 764.0,63.7 765.6,65.2 767.2,66.8 768.1,68.9 769.7,70.4 771.5,71.8 773.3,73.1 774.8,74.7 776.8,75.8 778.8,77.1 778.6,79.5 777.6,81.6 776.9,83.7 778.1,85.6 779.1,87.6 780.0,89.6 781.1,91.5 782.8,93.0 783.5,95.2 783.9,97.7 784.0,100.4 785.9,101.7 788.0,102.8 789.9,104.1 790.7,106.1 790.9,108.3 792.2,110.2"/>
<polyline points="792.2,110.2 796.3,107.4 800.5,103.3 804.6,95.0 807.4,86.7 810.1,81.2 814.3,79.0 818.4,83.9 825.4,85.3 833.6,83.9 841.9,82.6 844.7,78.4 841.9,74.3 837.8,71.5 836.4,67.4 844.7,64.6 853.0,60.4 858.5,54.9 859.9,50.8"/>
<polyline points="792.2,110.2 790.6,111.8 788.3,112.6 786.8,114.3 785.5,116.2 784.4,118.2 782.5,119.6 780.8,121.1 779.4,122.8 778.4,124.9 777.9,127.3 776.9,129.1 774.9,130.5 772.8,131.9 772.1,134.1 770.8,135.9 769.8,137.9 769.1,140.1 768.7,142.4 767.2,144.1 766.4,146.2 765.3,148.2 764.5,150.3"/>
<polyline points="665.0,160.0 666.8,158.5 669.0,157.8 670.8,156.4 671.8,154.3 673.6,152.9 676.0,151.9 677.2,149.8 677.5,147.4 678.1,145.2 678.8,143.1 679.6,140.9 680.5,138.8 681.7,136.9 682.7,134.9 683.7,133.4 682.9,131.5 681.8,129.5 679.9,128.7 678.0,127.5 675.8,126.3 673.4,127.3 671.4,128.4 669.4,129.6 667.2,130.7 665.9,132.7 665.0,135.1"/>
<polyline points="684.4,133.7 686.7,133.1 688.7,132.4 690.1,131.1 691.9,129.0 693.8,128.4 696.3,128.8 698.6,128.5 700.4,127.4 702.4,126.9 704.5,126.6 706.0,127.5 707.6,129.0 710.0,129.7 711.7,131.1 713.6,132.4 714.0,135.0 715.1,136.9 716.2,138.8 715.9,141.0 715.4,143.3 714.5,145.4 714.1,147.7 712.7,149.5 710.8,150.9 708.6,152.2 707.5,154.1 706.3,155.9 705.3,157.9 704.1,159.7 702.9,161.6 701.3,163.3 700.6,165.5 700.4,167.8 701.6,169.6 702.4,171.8 701.0,173.5 699.0,174.6 699.4,175.3 701.5,175.8 703.8,175.3 706.0,175.6 708.0,175.0 710.1,174.1 711.5,173.6 710.3,174.8 709.0,176.5 708.4,178.3 707.7,180.3 707.2,182.7 705.6,184.2 703.5,185.2 701.6,186.3 699.9,187.6 698.8,189.4 698.5,191.0 699.3,192.0 698.9,193.3 699.7,192.3 701.8,191.2 703.4,189.6 705.6,188.9 707.4,187.5 708.8,185.6 710.3,183.9 712.1,182.6 713.9,181.8 716.1,181.4 717.9,180.0 719.3,178.3 719.5,175.8 721.2,174.2 722.5,172.4 724.4,171.1 726.0,169.6 728.4,169.0 730.3,167.9 731.7,166.2 732.7,163.8 734.4,162.4 736.2,161.1 738.3,160.3 740.0,158.8 742.2,158.3 743.6,156.4 745.2,154.6 747.1,153.5 749.6,153.5 751.5,152.3 753.4,150.9 755.5,150.1 757.8,149.9 760.2,150.9 762.3,152.3 764.5,150.3"/>
<polyline points="764.5,150.3 775.6,151.7 786.6,153.1 794.9,154.4 794.4,164.1 793.6,175.2 792.2,186.2 790.8,197.3 789.4,198.7 797.7,202.8 806.0,206.1 814.3,202.8 824.0,199.5 830.9,202.8 837.8,208.4 844.7,216.6 837.8,220.8 830.9,223.6 837.8,230.5 844.7,238.8 850.2,247.1 854.4,254.0 850.2,262.3 847.5,269.2 848.9,277.5 850.2,283.0"/>
<polyline points="879.3,50.8 875.1,67.4 877.9,78.4 880.6,89.5 875.1,97.8 868.2,107.4 858.5,117.1 847.5,125.4 837.8,132.3 841.9,139.2 840.6,150.3 853.0,154.4 864.1,161.4 875.1,169.6 884.8,177.4"/>
<polyline points="871.0,283.0 877.9,278.9 886.2,274.2"/>
<polyline points="665.0,249.3 666.6,247.3 669.0,247.5 671.0,246.6 672.0,244.6 673.3,242.8 675.4,241.6 676.7,239.8 677.1,237.4 677.4,234.8 678.7,232.9 679.9,231.0 681.9,229.9 683.8,228.4 686.3,228.1 688.6,227.5 691.0,227.3 692.4,225.5 694.0,223.8 696.0,223.2 698.0,223.5 700.3,222.7 702.6,222.9 704.8,223.5 706.5,225.2 708.7,226.0 710.7,227.1 712.5,227.7 714.0,229.3 715.9,230.4 718.0,231.0 720.2,230.6 722.5,230.6 724.4,229.3 726.5,228.4 728.6,227.5 730.9,228.0 733.2,227.8 735.3,227.4 737.5,226.5 739.7,226.7 741.9,227.5 744.0,227.4 743.3,228.5 741.2,229.8 740.5,231.8 740.4,234.3 739.2,236.4 739.7,239.2 740.9,239.9 741.3,240.7 739.7,242.4 737.7,243.3 735.4,242.8 733.4,241.8 731.6,242.6 730.2,244.2 729.1,246.5 727.0,247.5 725.0,248.5 723.1,249.3 721.2,250.4 719.1,251.4 717.3,252.2 715.5,253.3 713.5,254.3 711.6,255.4 709.7,256.7 707.6,257.4 706.0,258.9 704.1,260.1 702.5,261.7 701.7,263.7 702.0,266.1 701.6,268.5 700.0,270.2 698.6,272.2 696.2,272.0 694.0,272.3 692.2,273.7 691.0,275.3 691.3,273.8 691.8,274.8 693.0,277.3 690.8,278.8 690.2,281.0 689.3,283.0"/>
<polyline points="232.6,283.0 233.3,285.3 234.5,287.1 236.1,288.6 236.3,291.1 236.7,293.4 238.3,294.8 239.9,295.8 239.4,297.7 238.9,299.9 238.8,302.3 237.3,304.1 235.5,305.5 233.6,306.5 232.5,308.1 230.3,309.6 229.5,311.5 229.0,313.5 227.9,315.6 225.9,316.6 223.7,317.5 222.2,319.2 222.1,321.7 222.4,324.2 221.7,326.8 219.2,327.9 216.8,328.5 215.2,329.9 214.0,331.8 212.4,333.3 210.3,334.3 209.0,336.0 208.8,338.3 209.4,340.6 209.5,342.0 210.0,343.5 211.3,345.3 213.1,346.7 214.8,348.2 215.3,350.6 216.0,352.6 214.1,354.1 212.0,355.0 210.0,355.8 209.7,357.9 209.5,360.0 207.8,361.8"/>
<polyline points="207.8,383.9 209.5,382.4 211.8,382.1 214.1,381.8 216.0,380.5 217.8,379.1 219.7,378.1 222.4,376.8 222.4,373.7 220.4,371.9 218.5,370.7 217.1,369.0 215.8,367.2 214.6,365.1 215.6,363.2 217.7,362.3 219.2,360.4 220.9,359.0 222.9,358.1 225.5,358.1 227.9,357.8 229.7,356.7 231.4,355.2 233.2,353.4 235.2,354.1 236.7,355.8 237.8,357.7 237.6,359.9 237.7,362.1 239.4,364.0 241.6,365.1 243.3,366.5 244.3,368.0 245.3,369.6 247.1,371.0 249.4,371.1 251.6,370.9 253.7,372.0 255.8,372.9 258.1,372.4 260.4,371.9 262.5,372.9 264.2,374.5 265.7,376.0 266.5,377.6 267.1,379.5 268.1,381.6 269.6,383.4 272.0,384.4 274.2,385.7 274.5,388.0 273.5,390.2 272.7,392.3 272.2,394.4 272.0,396.6 272.2,398.3 273.4,400.2 275.0,401.9 277.0,402.9 278.9,404.2 280.9,405.2 283.6,404.7 285.6,404.4 287.3,403.9 289.6,404.3 291.8,404.2 294.1,404.6 296.3,404.1 298.0,402.5 300.2,402.0 301.4,400.1 301.6,397.9 303.0,397.0 304.5,399.0 305.9,400.7 307.7,401.9 309.8,401.3 311.9,400.6 314.0,399.8 316.3,399.9 318.4,399.1"/>
<polyline points="299.0,283.0 299.7,285.1 298.8,287.7 299.6,289.9 300.7,291.9 302.7,293.3 303.7,295.1 304.0,297.0 303.0,299.1 301.9,301.1 301.6,303.2 301.8,305.5 302.2,307.7 303.3,309.3 304.1,311.5 304.8,313.9 306.7,315.4 308.6,316.6 310.4,317.9 312.4,319.0 315.0,318.8 317.6,318.5 319.9,318.8 321.3,321.0 323.0,322.6 324.4,324.4 326.2,325.6 327.7,328.0 330.8,328.0 332.2,325.4 332.4,322.9 331.6,320.7 331.3,318.5 330.7,316.3 332.0,314.6 334.1,313.5 335.5,311.9 337.3,310.6 338.9,308.9 341.1,308.4 343.2,307.6 345.1,306.3 344.7,303.8 343.2,302.0 342.0,300.5 340.0,299.7 338.4,298.1 336.4,297.1 334.0,296.6 331.6,295.4 330.7,293.2 331.6,290.4 332.6,288.9 333.3,287.0 333.2,284.4 334.9,283.0"/>
<polyline points="365.4,283.0 366.5,285.5 369.0,285.6 371.6,285.1 373.6,286.1 375.0,288.5 376.6,290.6 378.7,291.3 381.0,291.3 383.4,291.2 385.4,292.1 387.4,293.0 389.2,294.4 390.7,296.0 389.2,298.2 388.4,300.3 388.0,302.3 387.9,304.6 387.9,307.0 387.4,308.9 387.3,310.8 387.8,312.8 388.9,314.9 389.2,317.0 389.8,319.2 390.5,321.7 389.8,325.0 386.7,325.6 384.2,325.4 381.7,324.6 379.7,325.4 377.7,326.6 375.5,327.2 373.2,326.6 371.0,326.7 368.8,326.5 366.6,326.4 364.4,327.2 365.8,328.7 366.1,330.9 365.2,333.1 363.3,334.5 361.7,336.5 359.4,336.9 357.0,336.2 354.8,336.5 352.8,336.1 350.8,335.2 348.6,334.8 346.4,335.1 344.3,335.0 342.1,334.3 339.8,334.9 337.5,335.0 335.7,333.7 333.2,332.7 331.7,334.6 330.4,336.4 331.3,338.6 330.9,340.9 331.4,342.7 329.5,344.1 328.8,346.5 330.0,348.6 331.9,349.9 333.5,351.4 335.6,352.4 336.7,354.5 336.7,356.3 334.2,356.2 333.7,358.9 332.3,360.8 331.1,362.7 328.9,364.6 329.5,367.5 331.5,369.5 333.0,371.6 333.0,374.2 332.0,377.3 328.9,378.0 326.6,377.6 324.3,377.6 322.1,378.0 319.7,377.1 317.0,376.7 314.9,378.2 313.6,380.2 312.5,382.4 312.2,384.7 311.6,386.7 313.4,387.8 315.5,388.8 317.6,390.1 318.5,392.3 318.1,394.7 317.7,396.9 318.4,399.1"/>
<polyline points="329.4,327.2 331.6,333.3"/>
<polyline points="318.4,399.1 319.6,400.7 321.0,400.6 322.8,402.0 324.6,404.3 326.6,405.6 329.1,404.7 331.4,404.2 333.6,404.4 335.8,405.0 338.0,404.5 340.2,404.3 342.2,403.9 344.4,404.1 346.7,404.2 349.2,404.6 350.9,406.2 352.3,407.3 353.9,408.2 356.1,408.7 358.1,410.0 360.0,411.2 362.1,411.9 364.6,412.1 366.7,413.2 367.9,415.3 368.8,417.8 370.5,420.1 373.3,419.4 375.5,418.9 377.6,418.0 379.9,418.0 382.0,417.2 384.4,416.5 386.1,418.5"/>
<polyline points="386.1,418.5 385.0,421.0 387.0,422.8 388.1,424.8 388.2,427.1 389.5,429.3 388.4,431.6 386.6,433.0 384.5,434.0 382.7,435.6 381.8,437.6 380.0,438.8 379.0,440.6 377.7,442.4 377.4,445.1 377.0,447.2 375.5,448.9 373.7,450.5 372.3,452.3 371.7,454.4 370.6,456.3 369.1,458.1 367.4,459.6 365.4,460.7 363.2,461.2 360.8,461.6 359.2,463.2 359.3,465.7 358.6,467.9 357.0,469.6 355.1,470.9 352.8,471.9 350.9,473.3 350.2,475.4 349.8,477.9 348.7,480.1 347.1,481.8 344.9,483.0 342.4,483.2 340.1,482.6 338.0,481.6 336.8,479.8 335.7,477.9 333.9,477.1 332.1,475.9 330.2,474.7 328.3,473.0 326.1,472.6 323.9,471.8 321.5,472.4 319.3,472.5 317.4,471.3 315.3,470.8 313.0,470.4 310.5,470.7 308.1,471.9 306.8,473.7 305.4,475.6 304.3,477.7 303.7,479.9 305.0,482.0 305.6,484.3 305.2,486.7 303.7,488.5 302.2,490.2 300.3,491.5 299.1,493.4 297.3,494.8 295.7,496.7 294.7,499.7 297.5,501.1 299.6,502.1 301.0,503.8 301.9,505.9 303.8,507.2 305.5,508.6 306.0,511.2 307.1,513.0 308.8,514.5 310.5,516.0 311.4,518.0"/>
<polyline points="386.1,418.5 388.1,419.6 390.3,420.2 392.4,421.2 394.4,422.5 396.8,422.6 399.1,422.7 401.0,424.1 402.4,426.1 404.3,427.3 406.2,428.7 408.7,429.0 410.4,430.5 412.6,431.0 415.0,430.8 417.6,430.6 420.0,431.7 421.4,433.9 422.7,435.9 424.6,437.3 426.9,437.7 429.0,438.7 430.7,440.5 432.3,442.3 435.0,442.0"/>
<polyline points="413.7,388.1 415.8,387.2 418.1,387.3 420.1,387.9 421.2,388.8 423.1,389.8 424.0,391.8 424.8,393.8 425.6,395.8 427.7,397.0 429.9,397.1 432.1,398.2 432.8,400.4 432.3,402.6 431.6,404.4 430.9,406.1 428.6,406.5 426.4,407.1 424.4,407.6 422.6,407.8 420.3,408.0 417.9,408.5 416.6,410.4 415.2,412.2 414.5,414.5 414.0,417.0 414.1,419.4 414.8,421.5 416.0,423.6 416.3,425.8 417.0,427.9 417.8,430.0 417.9,432.3"/>
<polyline points="420.6,386.7 423.2,385.7 425.5,386.2 427.8,386.9 430.1,386.0 432.5,385.5 435.0,386.7"/>
<polyline points="433.1,401.9 435.0,404.6"/>
<polyline points="435.0,332.8 434.5,335.3 433.8,337.5 434.3,340.0 434.3,342.4 435.0,344.4"/>
<polyline points="435.0,455.8 432.9,456.3 430.7,456.9 428.5,457.1 426.5,458.3 424.7,459.6 422.4,459.9 420.7,461.6 419.2,463.5 417.5,465.1 415.3,465.7 412.5,466.9 410.1,465.2 409.2,463.5 407.3,463.9 405.1,464.2 402.9,464.5 400.7,465.0 398.6,465.7 396.3,465.5 393.9,465.4 391.9,466.5 390.1,468.2 388.4,469.2 387.4,470.7 386.3,472.6 386.3,474.8 387.7,476.6 388.6,478.7 388.2,480.8 387.8,483.0 388.2,485.3 387.8,487.6 387.4,488.4 388.4,490.1 390.6,491.1 392.9,490.2 395.1,488.4 396.9,489.8 397.4,492.2 398.0,494.4 398.9,496.8 400.4,498.4 401.8,500.2 403.8,501.3 405.4,502.9 407.9,503.6 409.6,505.1 411.0,506.9 411.5,509.2 413.1,511.2 413.2,513.6 412.6,515.8 411.8,518.0"/>
<polyline points="435.0,490.4 432.9,491.3 430.7,491.4 428.7,492.4 426.9,493.8 425.0,494.8 422.8,495.4 421.1,496.8 419.8,498.7 418.8,500.7 417.4,502.4 415.3,503.7 414.2,505.6 412.8,507.4 412.4,509.7"/>
<polyline points="346.0,518.0 348.2,516.8 350.5,516.1 352.9,517.4"/>
<polyline points="356.5,518.0 355.5,515.3 356.8,513.3 357.9,511.0 359.7,509.4 361.2,507.2 363.8,506.8 366.4,507.3 368.7,508.4 370.5,510.1 371.5,511.4 373.2,510.5 375.5,509.7 378.1,509.9 380.4,511.3 382.3,512.3 383.5,513.5 384.9,515.6 384.7,518.0"/>
<polyline points="437.2,283.0 438.4,285.2 438.0,287.5 438.1,289.8 438.0,292.1 438.8,294.3 438.3,296.7 438.1,299.1 438.2,301.3 438.8,303.6 438.8,305.9 438.9,308.2 439.2,310.3 439.1,312.4 439.0,314.6 438.7,316.9 439.3,319.4 438.9,321.7 437.8,323.7 437.1,325.9 436.2,328.0 435.0,330.0"/>
<polyline points="435.0,346.0 436.9,344.7 438.8,343.5 441.1,343.2 443.5,343.3 445.5,342.5 447.2,340.6 449.4,340.0 451.5,339.4 454.0,339.8 455.8,338.2 457.9,337.6 460.0,336.7 462.4,336.9 464.3,335.6 466.2,334.4 468.6,334.3 470.8,334.0 472.8,332.9 474.5,331.1 476.7,330.4 478.9,330.5 480.7,328.8 481.4,326.7 480.6,324.1 482.8,323.1 485.3,323.8 487.7,324.5 489.9,323.9 491.9,322.5 493.8,321.1 495.6,319.5 497.6,318.5 499.9,318.3 502.2,318.2 504.7,318.7 506.8,317.9 508.8,316.8 510.5,315.2 513.0,315.3 515.3,315.0 516.9,313.1 518.0,311.1 519.3,309.3 520.6,307.4 520.3,305.0 520.4,302.7 521.2,300.6 521.1,298.4 520.6,296.1 520.5,293.8 521.3,291.7 521.9,289.5 521.7,287.3 520.1,285.6 517.9,284.7 516.6,283.0"/>
<polyline points="522.1,288.5 524.4,289.0 526.7,288.8 528.6,287.8 530.8,287.4 533.0,288.0 535.0,288.8 537.3,288.7 539.4,288.9 541.5,289.9 543.6,290.9 546.0,290.2 548.3,290.4 550.5,290.6 552.5,291.6 554.3,292.8 556.1,291.8 558.3,291.2 560.2,290.3 562.1,289.4 563.6,288.5 564.3,287.1 563.2,285.2 562.7,283.0"/>
<polyline points="564.9,288.5 565.1,290.8 566.2,292.8 565.2,294.9 564.8,297.0 564.3,299.9 566.9,299.2 569.2,299.0 571.2,297.8 573.1,296.7 575.3,296.1 577.7,295.9 579.7,294.8 581.8,293.9 583.9,292.7 584.5,290.9 584.0,291.7 583.4,294.0 581.3,295.1 579.2,296.0 577.3,297.1 575.9,299.0 574.1,300.5 572.0,301.1 570.3,302.6 568.5,303.9 567.3,305.7 566.5,307.5 565.6,309.5 563.8,311.2 561.9,312.6 560.5,314.4 558.8,315.8 557.2,317.4 555.6,318.8 555.8,321.2 555.9,323.1 555.4,323.8 557.0,324.5 559.1,325.4 561.1,326.4 563.0,327.9 564.5,329.1 566.4,329.9 568.9,330.3 570.9,331.3 572.4,333.1 573.6,335.2 575.9,336.3 578.4,336.4 580.7,336.3 582.9,336.4 585.2,335.9 587.4,335.4 589.6,334.9 591.8,334.2 593.9,333.2 595.4,331.4"/>
<polyline points="435.0,346.0 435.2,348.4 435.8,350.6 437.5,352.2 438.8,354.0 439.6,356.1 440.5,358.1 442.3,359.6 444.7,360.8 445.7,362.6 445.7,365.3 446.4,367.6 447.5,369.5 449.9,370.4 451.5,372.0 452.8,373.8 453.0,376.1 453.7,377.8 454.5,379.9 455.4,381.9 455.1,384.0 454.5,386.3 452.3,387.3 450.4,388.7 447.9,389.1 445.7,387.7 443.7,386.4 441.6,387.6 439.4,387.7 437.1,387.3 435.0,388.1"/>
<polyline points="454.4,385.8 455.3,388.1 457.3,389.3 459.2,390.4 460.8,392.0 462.6,393.3 464.1,394.9 465.3,396.9 466.7,398.7 468.5,400.0 470.7,400.8 472.4,402.2 474.4,403.1 476.6,403.2 478.8,403.5 481.0,404.3 482.9,405.5 484.9,406.5 486.4,408.5 488.6,409.8 490.7,410.4 493.2,409.6 495.5,409.6 497.8,409.5 499.9,408.8 502.0,407.5 504.2,407.2 506.5,407.5 508.7,407.2 511.0,407.4 513.0,406.3 515.2,405.8 517.3,404.3 519.1,405.8 521.1,406.8 523.1,407.9 525.3,408.3 527.7,409.8 529.6,407.8 530.5,405.5 532.8,404.2 533.7,407.0 534.2,409.2 534.3,411.5 534.9,413.7 535.4,415.5 537.0,416.5 538.5,418.2 539.8,420.5 542.2,420.6 544.5,420.2 546.9,420.1 548.8,421.6 551.0,421.9 553.2,422.6 555.4,423.4 556.9,425.1 558.8,426.0 560.9,426.9 563.1,427.3 565.3,427.1 567.4,426.1 569.6,425.7 571.9,426.0 573.8,427.5 575.8,428.6 577.7,429.8 580.1,429.5"/>
<polyline points="580.1,429.5 580.9,427.4 583.2,426.1 584.2,424.4 584.6,421.9 585.5,419.5 587.6,418.3 589.6,417.2 591.3,416.5 591.8,415.0 592.3,413.0 593.0,411.2 593.2,409.0 593.0,406.8 592.5,404.7 592.9,402.3 592.5,400.2 591.7,398.0 590.6,396.9 588.5,396.7 586.3,396.6 584.2,397.2 582.1,398.5 579.9,398.6 578.1,397.4 576.8,395.6 575.4,394.1 573.9,393.2 572.0,391.9 570.0,390.5 568.8,388.8 567.5,387.0 567.2,384.2 565.9,382.4 563.4,381.9 561.4,379.9 563.8,377.8 566.4,377.9 568.7,378.0 570.6,378.3 571.6,378.5 572.2,376.6 572.2,374.3 572.9,372.2 574.4,370.5 575.9,368.8 576.3,366.7 576.5,364.8 577.5,362.7 578.0,360.7 577.9,358.6 578.0,356.4 578.5,354.2 579.7,352.9 581.3,351.1 583.4,351.1 584.7,353.0 586.1,354.8 588.8,355.0 591.2,355.7 592.3,357.4 593.7,359.5 596.2,359.3 598.3,358.4 600.0,356.6 601.5,354.9 603.0,353.1 605.1,352.2 605.6,350.1 605.1,348.8 603.9,346.9 602.3,345.4 599.7,344.8 598.1,343.2 597.2,341.2 595.3,340.1 593.5,338.2 593.8,335.7 595.1,333.6 595.4,331.4"/>
<polyline points="595.4,331.4 596.7,329.5 596.5,327.0 597.8,325.1 599.4,323.3 601.5,322.2 603.9,322.1 606.1,321.7 608.1,322.2 609.3,324.3 610.8,326.0 612.7,326.9 614.1,328.4 615.2,330.4 616.9,332.3 618.9,333.7 621.3,334.0 623.5,334.0 625.0,331.8 627.2,330.8 629.6,331.1 631.5,333.0 634.1,333.5 635.5,331.3 636.3,329.1 637.7,327.1 640.2,326.6 642.4,327.2 644.7,327.7 646.7,329.0 648.4,330.2 649.9,330.4 651.0,328.4 652.0,326.5 653.9,325.3 655.2,323.5 656.9,322.1 658.5,320.9 660.7,319.8 660.8,317.0 661.8,315.1 663.9,313.9 665.0,312.0"/>
<polyline points="595.4,334.1 597.4,335.0 599.1,336.7 600.7,338.5 603.0,338.9 605.2,339.5 607.7,339.1 609.3,340.9 611.4,341.9 613.7,342.1 616.3,342.0 618.0,343.5 619.4,346.0 621.6,346.7 623.8,346.9 626.1,346.8 627.8,348.5 629.8,349.5 631.9,350.3 634.0,350.8 636.2,351.4 638.5,351.8 640.6,352.1 642.9,352.0 645.1,352.6 646.8,353.3 646.3,355.7 645.9,357.7 644.4,359.4 644.4,361.8 644.7,363.6 645.6,365.5 646.3,367.8 647.7,369.6 649.1,371.2 650.7,372.6 651.9,374.5 653.7,375.9 655.0,377.3 656.8,378.5 658.7,379.9 660.7,380.8 662.7,382.0 665.0,382.0"/>
<polyline points="665.0,383.9 665.8,386.8 663.5,388.1 663.1,390.6 665.0,392.2"/>
<polyline points="665.0,399.1 663.7,400.9 662.5,402.3 663.5,404.4 665.0,406.0"/>
<polyline points="580.1,429.5 581.2,431.6 583.2,432.7 584.8,434.2 586.8,435.2 588.5,437.0 590.8,437.2 593.2,436.7 595.6,436.8 597.5,438.2 599.1,440.0 600.7,440.9 599.8,442.9 598.8,444.8 597.0,446.4 596.1,448.4 594.6,450.5 594.8,453.1 596.3,455.2 597.9,456.7 598.6,458.7 600.5,460.2 601.7,462.0 603.0,463.8 603.6,466.0 605.5,467.5 607.2,469.1 608.4,471.0 607.8,473.8"/>
<polyline points="607.8,473.8 609.7,472.4 612.0,472.3 614.1,471.6 616.3,471.0 617.8,469.1 619.6,467.6 621.6,466.1 624.1,465.9 626.6,467.2 627.2,469.3 627.1,471.6 626.8,473.9 626.3,476.1 624.9,477.6 626.2,479.1 628.7,480.7 630.9,478.8 631.7,476.1 632.8,473.9 634.4,472.1 636.6,471.9 638.3,470.7 640.1,469.8 642.3,470.3 644.2,471.6 645.8,473.2 647.8,474.3 650.0,474.9 652.3,474.7 654.3,475.8 656.5,476.2 658.6,475.8 661.1,474.8 663.6,475.2 665.0,477.9"/>
<polyline points="665.0,482.1 663.9,489.0"/>
<polyline points="607.8,473.8 605.3,473.4 603.3,474.5 601.6,476.0 599.5,476.7 597.5,477.9 595.3,478.4 593.2,478.8 590.9,478.8 588.9,479.9 586.9,480.9 585.1,482.2 582.9,482.6 581.1,483.9 579.1,485.0 577.1,486.0 575.3,487.3 573.5,488.6 572.3,490.7 570.5,492.0 567.9,491.9 565.3,491.5 563.6,492.8 562.2,495.1 560.5,496.8 558.7,498.1 556.7,499.0 554.6,499.7 552.6,500.6 550.7,501.8 549.5,504.0 547.0,504.2"/>
<polyline points="547.0,504.2 548.8,505.6 550.8,507.0 551.5,509.4 552.4,511.5 554.0,513.3 555.6,515.5 554.4,518.0"/>
<polyline points="547.0,504.2 545.9,501.4 543.4,501.5 541.0,501.2 540.8,498.8 540.5,496.6 540.6,494.4 540.7,492.1 540.7,489.9 539.6,487.5 537.6,486.0 536.4,484.4 535.1,483.4 534.6,481.1 532.8,481.5 531.2,483.0 529.9,484.9 528.1,486.2 526.7,487.9 525.7,490.1 524.3,492.0 521.7,492.3 519.6,491.7 519.9,490.2 518.6,488.7 516.8,487.3 515.5,485.4 513.9,485.6 512.0,486.8 510.2,488.4 508.0,489.1 505.8,489.1 504.0,490.0 502.5,491.4 500.7,492.9 498.8,492.0 497.0,491.1 494.9,490.2 493.0,489.1 491.5,487.6 489.7,486.4 487.6,486.0 485.7,484.8 483.8,483.5 481.7,482.3 479.4,482.9 477.0,483.3 474.7,483.3 472.8,481.9 470.7,481.3 468.5,480.9 466.4,480.2 464.3,479.3 462.1,479.3 459.9,478.9 457.9,477.8 455.6,477.2 453.4,478.0 451.8,479.7 449.7,480.7 448.6,482.7 447.5,484.7 448.8,486.5 449.7,489.1 447.4,490.6 445.3,491.5 443.3,491.0 441.2,490.5 438.6,491.4 437.3,491.6 435.0,489.8"/>
<polyline points="435.0,442.8 436.3,445.0 435.2,447.0 435.0,449.4"/>
<polyline points="685.7,283.0 685.5,285.2 685.0,287.4 684.2,289.6 682.9,291.5 680.8,292.5 679.2,294.0 677.6,295.7 677.1,297.9 676.2,300.0 675.6,302.2 674.3,303.9 672.5,305.1 670.7,306.5 669.6,308.5 668.8,310.5 668.2,312.2 668.2,314.5 669.1,316.6 671.1,317.9 672.5,319.9 674.5,321.1 677.0,321.1 678.9,322.3 680.8,323.4 682.9,324.2 685.4,323.9 687.7,323.7 690.1,323.2 692.1,323.9 694.1,325.4 696.0,326.5 698.3,326.8 701.0,327.0 702.8,328.9 703.8,331.1 704.0,333.4 704.2,335.8 703.7,338.7 704.6,340.7 706.7,342.1 709.4,343.0 712.3,343.9 713.7,345.5 714.3,347.7 713.9,350.6 714.6,352.8 715.6,354.7 716.8,356.5 717.9,358.5 718.7,360.6 720.4,362.2 722.4,363.4 724.5,365.0 724.0,367.6 723.2,370.0 723.0,372.7 725.5,374.0 727.4,375.3 729.4,376.1 731.1,377.5 733.1,378.3 735.2,379.2 737.4,379.6 738.7,381.1 739.8,382.9 741.3,384.7 743.3,385.7 745.1,386.9 747.0,387.7 749.2,388.1 751.2,388.8 753.2,389.6 755.5,390.5 756.5,392.6 757.5,394.7 757.0,396.6 755.1,397.6 753.2,398.8 751.1,400.0 748.9,400.5 746.6,399.1"/>
<polyline points="665.0,312.0 667.8,310.6"/>
<polyline points="734.1,396.4 736.1,395.1 738.5,395.1 740.7,395.5 742.9,395.4 745.1,395.9 747.4,395.9 749.6,396.7 751.6,397.7 753.5,399.0 755.6,399.8 757.9,400.6 759.6,402.7 756.8,403.6 754.6,403.9 752.4,403.9 750.2,403.3 748.3,401.4 746.3,400.3 744.0,400.2 741.6,400.4 739.2,400.7 736.8,400.4 734.4,399.3 734.1,396.4"/>
<polyline points="736.9,400.5 738.9,401.4 741.2,401.5 743.2,402.6 745.2,403.4 747.4,404.0 749.6,404.0 751.7,404.4 753.8,405.3 755.0,406.8 753.9,404.6 752.1,405.4 750.1,405.6 747.9,405.1 745.8,404.3 744.0,404.0 742.0,403.6 739.8,403.4 738.0,402.4 736.9,400.5"/>
<polyline points="736.9,408.8 738.7,407.4 740.2,405.3 742.5,403.9 745.1,403.5 747.5,404.7 749.5,405.7 751.7,406.3 754.0,407.0 755.2,409.2 756.2,411.4 757.5,413.2 758.4,415.2 760.1,416.6 762.0,417.8 762.0,419.0 759.9,419.8 758.1,421.2 756.5,422.7 754.9,424.3 753.3,426.0 751.5,427.2 749.6,428.3 747.9,429.8 746.2,431.4 744.0,432.5 741.9,431.8 740.9,429.6 738.7,428.5 736.9,427.4 735.0,426.5 733.5,424.1 734.2,421.6 735.3,419.6 736.1,417.5 737.0,415.5 737.3,413.2 737.5,411.0 736.9,408.8"/>
<polyline points="665.0,374.2 667.4,374.3 669.6,374.0 671.7,373.5 673.9,374.0 675.8,375.1 677.0,376.9 678.5,378.3 678.8,379.7 678.6,381.7 677.8,383.2 676.1,383.8 674.1,385.5 671.9,386.3 669.5,386.3 667.2,386.4 665.0,385.8"/>
<polyline points="665.0,406.0 666.7,407.5 668.2,409.5 670.6,409.7 673.1,409.3 675.3,410.2 675.1,413.0 676.4,414.7 677.8,416.7 677.6,419.3 676.2,420.6 676.0,422.0 677.8,422.5 679.2,422.4 681.6,423.4 683.8,423.3 686.0,422.7 688.1,421.7 690.6,422.9 692.5,422.6 694.5,422.9 696.8,422.7 698.8,423.3 701.0,423.8 703.1,424.3 705.3,424.8 707.6,424.8 709.7,425.6 711.7,426.7 714.0,427.1 716.1,425.9 718.2,425.0 720.8,424.1 723.3,425.3 724.3,426.8 725.7,426.6 727.9,425.9 729.8,424.7 731.5,423.1 733.0,421.5 734.3,419.7 735.0,417.5 736.3,415.7"/>
<polyline points="699.6,422.6 699.1,424.9 698.8,427.0 699.7,429.4 699.5,431.6 699.0,434.0 696.9,435.5 695.5,437.2 694.3,439.0 694.6,441.1 694.5,443.3 694.3,444.9 692.7,446.1 691.1,447.6 689.3,448.8 687.2,449.7 685.1,450.3 683.5,450.8 683.6,452.7 682.6,454.9 681.0,456.6 680.3,458.6 679.7,460.7 679.1,462.8 677.8,464.5 676.7,466.4 675.2,468.2 673.5,470.1 672.7,472.1 672.9,474.4 671.8,476.3 670.0,477.6 668.1,478.8 667.8,481.7 665.0,482.1"/>
<polyline points="742.4,432.3 739.7,432.5 737.7,433.9 735.6,435.3 734.2,437.1 732.6,438.7 731.1,440.5 729.1,441.9 726.8,442.4 724.4,442.8"/>
<polyline points="665.0,493.1 667.3,493.7 669.4,494.8 671.2,496.3 672.7,498.2 674.1,500.1 675.7,501.9 677.4,503.8 677.3,506.4 677.6,508.7 677.8,511.1 678.4,513.3 677.7,515.8 678.8,518.0"/>
<polyline points="680.2,518.0 681.1,515.7 683.3,514.3 684.8,512.6 686.9,511.3 689.6,510.7 690.0,513.2 691.3,515.2"/>
<polyline points="847.5,283.0 859.9,295.4 872.4,283.0"/>
<polyline points="207.8,589.9 209.8,590.7 211.9,591.5 214.0,592.4 215.8,590.7 217.7,589.5 219.9,588.8 222.1,588.4 223.9,588.0 224.5,586.3 225.4,584.2 225.5,582.0 224.5,580.0 224.0,577.8 223.7,575.7 223.8,573.3 223.6,571.1 222.3,569.2 220.8,567.1 220.8,564.7 222.3,562.7 224.3,561.3 226.0,560.4 226.9,558.2 227.9,556.1 229.2,554.2 230.4,552.3 232.5,551.2 234.8,550.5 236.9,549.3 237.8,547.2 239.8,546.1 241.4,544.5 243.3,542.5 242.3,539.8 240.7,537.8 240.7,535.4 243.7,535.6 246.1,535.4 247.7,533.6 249.2,531.7 250.6,530.0 252.5,528.8 254.1,527.0 255.3,525.4 256.1,524.0 258.1,523.6 260.2,523.2 262.2,523.5 264.5,522.7 266.7,522.7 267.8,523.6 266.8,525.1 266.9,527.5 267.4,529.7 267.7,532.1 268.3,534.0 269.6,535.7 269.6,538.0 269.6,539.8 270.5,541.3 271.8,543.1 272.6,545.2 274.5,546.1 276.8,547.4 279.6,548.2 282.0,546.6 282.9,543.7 284.2,541.6 285.9,539.9 288.4,539.2 291.0,539.7 293.1,541.2 294.5,543.2 295.0,545.6 296.0,547.5 297.1,548.8 297.2,549.7 299.1,550.1 301.4,550.6 303.4,551.2 305.6,551.4 307.8,551.4 310.1,550.8 312.3,551.3 314.7,551.7 316.9,551.7 318.8,549.6 320.8,548.5 322.5,547.7 323.0,546.5 323.8,544.7 325.3,542.7 323.7,541.1 322.1,539.5 320.2,538.6 318.1,538.0 315.7,537.9 313.7,536.8 311.9,535.5 310.0,534.5 308.5,532.6 306.7,531.8 307.7,530.3 307.3,528.1 308.1,526.6 309.8,525.0 311.6,524.2 312.7,522.9 314.7,521.8 315.1,520.0 314.2,518.0"/>
<polyline points="294.9,551.2 294.2,553.3 293.9,555.5 292.5,557.2 291.9,559.5 290.3,561.0 288.1,561.0 285.8,560.9 283.7,562.7 281.1,562.9 278.9,562.5 277.2,561.0 275.4,559.5 273.2,559.0 271.5,559.2 269.5,559.6 267.3,560.4 265.8,561.9 263.8,561.6 261.8,560.5 259.8,559.6 257.5,559.6 255.8,560.3 254.5,561.9 252.6,562.9 250.6,563.6 248.5,564.6 246.6,565.8 244.7,567.4 245.0,569.8 246.1,571.8 247.8,573.7 248.8,575.8 249.0,577.9 249.0,580.0 250.0,581.9 250.8,583.5 251.8,583.1 253.7,582.5 256.1,582.5 258.4,582.3 260.6,582.0 262.8,581.6 265.0,581.4 267.2,581.2 269.3,582.5 270.4,584.0 271.7,585.7 272.9,587.1 271.7,588.5 272.0,590.7 271.5,592.7 270.7,594.7 269.7,596.7 269.7,599.2 268.5,601.1 267.3,602.9 266.4,605.0 265.4,607.0 264.6,609.1 265.2,611.0 266.9,612.3 267.9,614.5 268.7,616.7 270.9,617.7 272.5,619.2 273.8,621.0 274.2,623.5 276.1,624.4 275.6,626.1 275.0,628.2 274.5,630.3 274.6,632.5 273.2,634.6 271.2,636.0 270.0,637.9 268.8,639.7 267.3,641.5 265.8,644.0 267.9,646.0 269.7,647.5 271.1,649.2 272.7,650.7"/>
<polyline points="268.6,639.6 270.8,639.3 273.1,640.5 275.4,639.9 276.6,637.2 277.9,634.8 279.9,634.1 282.3,634.0 284.7,633.6 286.8,633.0 288.9,632.9 291.2,632.9 293.5,632.9 295.6,634.0 297.6,634.7 299.0,637.1 300.8,638.8 303.1,639.1 305.8,638.0 308.0,638.1 310.2,638.4 312.4,638.9 313.8,639.5 315.4,639.3 317.3,638.0 318.9,636.4 320.4,634.4 322.2,633.1 324.3,632.4 326.6,632.0 329.0,631.9 331.0,630.9 333.1,630.2 335.0,629.1 337.1,628.1 338.2,625.7 339.5,623.8 341.2,623.0 343.8,622.2 345.6,620.7 346.5,618.9 347.5,617.1 349.1,615.6 351.0,613.8 352.7,615.4 353.8,617.4 355.2,619.2 357.4,620.0 359.1,621.4 360.7,623.1 363.0,623.5 365.1,624.3 367.1,625.0 369.2,625.8 371.3,626.4 373.6,627.7 376.1,627.0 378.1,625.8 379.9,624.4 380.7,622.6 380.6,620.1 382.6,618.2 385.1,617.3 387.5,617.6 389.8,616.9 392.0,617.7 393.8,617.8 395.1,617.2 397.1,615.9 398.9,614.9 400.5,614.4 402.6,613.8 404.5,612.2 406.3,610.8 408.0,609.4 409.7,608.0 411.6,606.8 413.6,605.9 415.8,605.4 417.7,604.3 419.2,602.6 420.6,600.9"/>
<polyline points="420.6,600.9 419.5,598.9 418.7,596.9 418.3,594.8 417.0,593.0 415.4,591.0 415.9,588.4 417.0,586.5 417.7,584.3 416.0,582.7 415.5,580.5 416.7,579.1 419.4,578.7 420.5,576.4 420.9,574.0 419.8,571.9 419.6,569.6 418.7,568.2 416.8,568.6 414.6,568.7 412.3,568.8 410.2,569.5 407.9,569.8 405.7,569.8 403.5,569.4 401.3,568.9 400.6,568.6 401.5,566.4 403.0,564.5 405.3,563.7 407.4,562.9 409.4,562.2 411.4,561.5 412.3,559.4 413.8,557.7 414.6,555.6 416.1,553.9 416.6,551.6 416.8,549.3 416.4,547.1 417.0,545.3 416.9,543.0 417.2,540.4 416.8,538.2 415.6,536.4 413.7,534.8 412.5,532.9 412.0,530.7 412.2,528.4 412.3,526.4 412.3,524.4 411.6,522.0 411.8,520.0 411.0,518.0"/>
<polyline points="315.6,520.8 317.4,522.3 319.6,523.2 321.8,523.4 323.6,521.7 325.8,519.8 328.3,520.8 330.3,522.3 331.9,524.0 334.1,524.5 335.8,526.3 337.7,527.7 339.7,526.5 340.9,524.3 342.5,522.8 343.3,520.8 345.2,519.2 347.4,518.0"/>
<polyline points="384.7,518.0 385.5,520.3 386.8,522.1 388.1,523.7 390.1,524.9 391.7,526.4 392.9,528.3 393.3,530.5 394.7,532.3 396.4,533.7 398.4,534.8 400.0,536.7 402.2,537.3 404.6,537.2 405.2,535.5 406.6,534.0 408.6,532.5 409.3,530.4 409.5,528.0 411.0,526.3"/>
<polyline points="420.6,600.9 422.2,598.2 424.9,596.9 427.8,598.9 428.4,601.8 429.2,603.4 430.7,601.8 432.5,600.5 433.3,598.2 435.0,596.8"/>
<polyline points="272.7,650.7 274.3,648.8 276.3,647.8 278.6,647.3 281.0,647.5 283.2,647.1 285.7,646.8 287.1,648.9 287.6,651.1 289.4,652.6 291.4,653.6 292.2,655.9 293.2,658.2 295.7,658.1 297.8,658.5 300.0,658.7 302.0,658.0 304.0,656.7 306.5,656.8 308.6,658.3 310.7,659.5 313.0,659.2 314.8,658.5 315.9,659.3 316.7,661.2 318.7,662.6 320.9,664.3 320.7,666.9 320.1,669.0 319.6,671.2 319.1,673.5 317.9,675.4 317.1,677.6 315.1,678.9 314.2,680.9 313.2,682.6 312.1,684.6 310.6,687.1 312.3,689.2 314.2,690.8"/>
<polyline points="312.8,681.7 312.6,679.3 311.0,677.6 309.4,676.8 307.4,676.5 305.2,677.1 303.2,678.2 301.7,679.8 300.0,681.2 298.2,682.5 296.2,683.5 293.9,684.5 291.7,683.5 289.6,682.7 287.9,681.2 285.8,681.8 284.0,683.1 282.2,684.5 280.3,685.5 278.1,686.2 276.6,687.8 275.2,689.5 274.3,691.5 272.7,692.8 270.7,693.8 268.2,693.8 266.5,695.2 265.0,697.1 263.4,698.7 261.2,699.1 258.8,699.4 256.9,698.2 254.9,698.5 252.5,699.5 251.4,701.5 250.5,702.9 249.7,703.3 248.1,701.9 246.7,700.1 245.0,698.6 243.1,697.5 241.0,696.6 239.3,694.8 236.8,694.5 235.1,696.5 233.9,698.8 231.7,699.1 230.2,697.2 228.8,695.7 228.2,696.9 226.9,698.6 225.1,700.1 222.8,700.7 220.9,701.6 219.1,702.1 218.0,701.9 216.8,699.8 214.8,698.7 212.7,697.7 210.0,698.2 207.8,697.7"/>
<polyline points="314.2,690.8 316.6,690.0 318.4,692.5 320.5,692.7 322.5,693.7 324.7,694.0 326.5,695.4 329.2,694.5 331.4,695.1 333.5,695.8 335.1,697.9 337.3,698.0 339.6,697.6 339.9,699.5 339.0,701.6 337.7,702.7 336.0,703.5 333.7,704.4 332.3,706.5 332.6,709.1 334.2,710.5 334.8,712.3 335.1,714.8 335.3,716.7 336.1,718.7 336.5,720.8 338.3,721.4 340.4,721.9 342.7,722.0 344.2,723.8 345.6,725.7 347.5,726.8 350.3,726.7 352.4,727.3 354.0,729.0 355.3,731.2 357.5,731.9 359.8,731.9 362.0,731.9 364.1,731.4 366.3,731.4 368.6,731.7 370.5,732.8 372.2,733.2 374.5,733.2 376.9,733.2 379.0,733.9 380.3,728.7 382.7,730.3 384.4,730.1 386.9,730.2 389.1,729.4 391.2,728.5 393.0,727.1 394.6,725.9 395.8,724.2 397.7,722.9 399.7,723.3 401.4,724.7 403.2,726.1 405.5,726.6 407.8,726.5 407.7,730.6 413.8,726.3 414.2,729.1 414.2,732.1 413.9,735.0 415.8,737.0 418.9,737.4 421.6,736.8 423.9,736.5 425.4,734.5 425.7,730.2 428.4,730.5 430.6,729.9 432.8,729.6 435.0,729.5"/>
<polyline points="384.7,732.3 351.5,749.1"/>
<polyline points="435.0,743.3 433.1,747.5"/>
<polyline points="555.3,518.0 556.1,520.1 557.5,521.7 556.0,522.9 554.3,524.2 553.6,526.4 553.2,529.1 552.1,531.1 550.1,532.4 547.8,533.0 545.5,533.8 543.9,535.7 541.7,537.1 541.0,539.5 541.3,542.1 541.4,544.4 540.5,546.8 541.6,549.0 542.9,550.9 543.8,553.3 546.2,554.4 547.6,554.6 547.2,555.5 546.2,557.6 545.9,560.2 547.5,562.3 548.1,564.5 548.9,566.6 550.3,568.4 552.4,569.9 552.7,572.2 552.3,573.9 553.0,574.8 554.7,576.2 557.1,576.9 558.6,578.9 559.2,581.1 558.8,583.4 558.6,585.5 558.5,587.3 560.7,587.8 563.1,588.0 564.1,590.3 562.5,592.3 560.3,593.5 558.1,594.7 556.8,597.0 557.9,599.5 558.9,601.7 559.3,604.0 558.6,606.3 558.6,608.2 559.0,609.7 559.4,612.0"/>
<polyline points="435.0,595.4 436.8,596.8 439.1,597.2 441.5,597.6 443.7,598.4 444.6,600.4 446.7,599.7 448.1,598.0 449.2,596.1 450.6,594.5 452.8,593.7 454.2,592.5 455.9,592.4 458.1,592.5 460.2,592.3 461.7,590.6 462.9,588.4 465.5,587.4 467.9,588.6 469.9,589.7 472.1,590.3 473.6,592.1 474.8,593.5 475.6,595.5 476.2,597.7 475.8,600.3 477.2,602.5 479.8,602.9 481.3,604.9 479.9,607.1 478.0,608.6 476.6,610.6 476.8,612.9 476.5,615.1 476.0,617.3 473.7,618.2 472.1,619.8 470.2,621.0 469.1,623.1 468.6,625.3 469.5,627.4 469.2,629.0 469.9,629.8 471.0,631.5 473.3,631.0 475.4,630.1 476.3,627.8 478.0,626.2 480.3,625.4 482.1,626.5 482.6,628.6 483.2,630.6 484.3,632.3 484.9,634.7 485.0,635.9 485.9,635.6 487.6,637.1 489.5,637.7 491.5,636.8 493.3,635.4 495.7,635.3 497.9,635.0 500.0,634.1"/>
<polyline points="500.0,634.1 500.2,631.7 501.3,629.8 502.7,627.9 504.7,626.4 505.2,624.2 505.9,622.1 508.0,620.9 510.4,621.0 512.5,621.3 514.7,622.0 516.7,623.2 518.9,623.1 521.1,622.7 523.0,623.4 523.9,625.6 525.2,627.2 527.5,627.6 529.6,626.8 530.2,624.5 530.3,622.2 529.1,620.4 527.2,618.6 527.6,615.9 530.0,614.8 532.0,613.8 533.7,612.3 535.6,610.9 537.8,610.8 540.0,611.6 541.9,612.8 543.9,613.8 546.1,614.6 548.4,614.6 550.7,614.5 552.9,613.8 555.2,613.7 557.4,613.1 559.4,612.0"/>
<polyline points="559.4,612.0 561.3,613.2 563.2,614.2 565.1,614.0 567.6,615.1 569.8,614.4 571.6,612.7 573.3,611.1 575.3,611.2 577.5,611.1 579.9,611.4 581.3,613.2 581.9,615.4 581.6,616.9 580.2,618.5 579.4,620.3 578.4,621.9 577.3,624.0 575.8,625.7 574.1,627.0 572.3,628.3 570.7,629.9 569.5,631.7 567.7,632.9 569.5,634.9 571.3,635.9 573.4,636.3 575.8,636.7 577.9,636.6 580.1,635.8 582.0,634.8 583.7,633.2 585.6,632.1 587.4,630.7 589.5,630.1 591.5,629.2 593.7,628.8 595.8,628.1 598.1,628.1 600.2,627.3 602.3,627.1 604.3,626.0 606.5,625.7 608.5,625.7 610.1,627.4 611.9,628.6 613.6,630.1 615.7,630.3 616.0,628.8 615.8,626.6 617.3,624.7 616.6,622.5 617.5,620.3"/>
<polyline points="617.5,620.3 616.2,618.3 616.1,616.1 616.4,613.9 616.5,611.6 617.1,609.4 617.5,607.4 618.6,605.5 619.9,603.5 620.8,601.5 621.4,599.4 622.2,597.4 622.8,595.2 624.2,593.5 626.3,592.1 627.8,590.4 628.6,588.3 628.5,585.8 628.9,583.5 630.4,581.8 631.2,579.8 630.3,577.8 629.0,575.6 630.0,573.3 632.4,572.0 632.5,569.8 631.7,567.7 631.2,565.6 631.5,563.4 631.8,561.1 632.8,559.1 635.1,558.1 636.9,556.9 637.8,554.6 639.3,553.0 641.8,552.5 643.9,551.3 643.8,548.5 644.5,546.4 646.0,544.8 646.2,542.5 644.2,541.2 642.6,539.8 641.3,537.9 641.5,535.7 642.8,535.1 644.1,533.6 645.3,531.3 647.1,530.2 649.5,529.5 650.7,527.6 652.2,525.8 654.4,525.1 656.6,524.9 658.9,525.2 660.9,525.6 662.8,525.2 665.0,524.9"/>
<polyline points="617.5,620.3 619.7,620.0 621.9,620.0 624.0,621.2 626.0,622.2 628.2,622.6 630.4,622.7 632.5,623.4 634.4,624.6 636.5,625.5 638.6,626.5 640.5,627.3 642.3,627.8 644.6,628.0 646.6,629.1 647.8,630.9 649.1,632.7 651.3,633.7 653.7,634.9 654.6,637.1 654.4,639.7 654.0,642.1 655.1,644.0 655.8,646.2 656.5,648.3 656.4,650.6 660.8,649.9 658.8,653.2 660.6,651.4 661.9,648.9 665.0,650.7"/>
<polyline points="500.0,634.1 500.2,636.3 500.5,638.6 501.3,640.7 501.4,643.0 501.0,645.2 500.2,647.3 499.2,649.3 497.5,651.0 496.6,653.1 496.5,655.4 497.1,658.2 496.1,660.5 494.2,662.1 492.3,663.6 490.7,664.8 489.0,665.9 487.5,667.6 487.1,669.9 487.0,672.1 486.0,674.1 485.8,676.4 485.4,678.6 484.3,680.6 482.8,682.6 482.3,685.0 483.6,687.2 484.8,689.3 484.8,691.7 482.6,692.9 480.7,694.1 478.9,695.4 476.6,695.9 474.2,695.9 472.5,697.7 471.0,699.8 469.4,701.6 467.3,701.4 465.5,702.7 463.6,704.3 463.5,706.7 464.0,709.2 463.6,711.8 461.0,712.4 458.8,712.8 456.8,713.6 454.7,714.5 452.5,715.5 452.4,718.0 453.2,720.8 451.5,723.1 448.7,723.3 446.3,723.0 444.1,723.7 442.2,724.6 440.5,725.8 438.7,727.1 436.8,728.2 435.0,729.5"/>
<polyline points="435.0,729.5 437.2,730.1 439.4,731.5 440.0,734.1 440.2,735.5 439.5,736.8 440.7,739.2 442.9,741.4 445.7,740.2 447.7,738.9 449.2,736.1 451.2,735.0 453.5,739.2 454.7,738.6 456.0,740.2 457.3,741.0 457.0,742.6 456.7,744.6 454.7,745.4 452.4,745.6 450.3,746.4 448.4,748.4 450.5,749.3 452.7,748.4 454.9,747.7 456.9,747.1 459.0,746.9 460.5,745.7 460.9,743.9 462.3,742.0 464.4,741.1 465.3,739.2 466.1,736.6 468.6,736.3 470.9,736.0 473.0,735.4 474.7,733.9 476.8,733.3 479.2,734.1 481.5,734.4 483.5,733.3 485.3,730.7 487.5,730.4 489.7,730.6 492.0,730.8 494.3,730.2 495.7,728.3 497.2,726.5 499.1,725.3 501.3,724.8 503.1,723.0 505.0,721.9 507.1,721.1 509.4,721.2 511.3,720.0 513.3,719.4 513.8,717.7 516.0,716.9 517.0,713.9 521.0,714.6 520.4,717.9 521.9,719.3 523.7,720.5 525.2,721.4 525.9,722.4 527.9,722.6 530.2,722.7 531.9,721.2 533.0,719.2 535.2,718.3 537.3,717.3 540.0,716.3 539.6,713.2 538.6,710.6 540.7,711.2 541.6,710.4 543.0,712.2 544.8,712.4 546.4,710.7 548.4,709.8 550.6,709.3 553.1,709.1 553.9,706.7 551.5,703.8 554.6,702.8 555.3,700.5 556.0,698.2 556.5,696.2 556.4,694.6 557.0,692.9 557.1,690.2 559.8,689.6 562.1,690.6 562.8,693.3 564.8,694.3 567.1,694.8 569.9,695.9 569.3,699.0 565.8,699.1 563.9,700.8 561.7,702.9 564.2,705.8 564.1,707.4 566.5,708.5 568.6,707.8 570.8,707.3 572.9,706.5 575.2,707.4 577.4,707.2 579.6,706.8 581.8,706.3 584.7,707.0 585.0,704.2 584.3,701.9 583.6,699.7 584.8,697.5 587.6,695.1 588.6,693.7 588.4,693.6 588.0,691.1 588.2,688.1 590.0,686.5 592.2,683.0 594.8,685.9 597.1,684.8 598.2,685.3 599.9,685.1 603.5,687.7 605.7,688.1 607.4,686.6 609.0,684.5 611.3,683.7 613.6,682.9 615.0,682.0 618.7,687.8 619.8,684.0 622.0,683.5 623.4,681.2 624.9,678.6 627.3,678.2 630.3,681.1 632.2,679.5 633.9,677.8 635.9,676.9 638.3,677.2 640.5,676.7 642.3,675.3 644.1,674.5 645.8,673.1 647.9,672.2 649.4,670.5 651.6,669.6 653.5,668.4 655.4,667.1 656.7,665.4 657.2,662.7 657.8,660.2 659.1,659.0 660.8,656.9 661.4,654.0 657.6,653.5"/>
<polyline points="559.4,711.5 563.6,712.9"/>
<polyline points="567.7,710.1 576.0,708.8"/>
<polyline points="495.8,724.0 498.8,725.5 501.0,721.6 501.9,724.4 502.7,726.7"/>
<polyline points="526.2,722.6 528.5,723.6 530.5,725.4 533.4,725.4 533.1,722.0"/>
<polyline points="659.5,656.2 665.0,653.5"/>
<polyline points="660.3,660.4 665.0,658.4"/>
<polyline points="786.6,587.7 797.7,590.4 800.5,606.5 797.2,625.8 794.9,639.6 793.6,653.5 786.1,668.7 783.9,686.1 775.6,676.1 765.9,672.3 759.0,660.4 754.0,647.9 753.5,639.6 760.4,625.8 767.3,609.2 774.2,598.2 786.6,587.7"/>
<polyline points="665.0,520.8 667.3,519.5 670.0,519.6 672.6,519.8 675.0,518.6 677.4,518.0"/>
<polyline points="665.0,101.9 666.5,100.3 668.1,98.6 669.6,97.0 671.6,95.9 673.6,94.8 675.9,94.2 677.7,92.7 678.1,89.8 679.3,87.9 681.4,86.7 683.7,86.1 685.2,84.4 686.8,82.6 688.4,81.1 690.6,80.4 693.0,80.0 695.6,79.6 696.9,77.7 698.1,75.8 700.1,74.7 702.1,73.9 704.0,72.6 706.3,72.7 708.7,72.8 710.6,72.5 712.7,71.6 714.9,71.7 716.4,70.0 717.9,68.6 720.1,67.8 723.1,67.9 725.2,66.9 726.7,65.2 727.8,63.1 728.9,61.0 730.3,59.2 731.9,57.7 733.3,55.9 735.2,54.7 736.7,53.0 738.3,51.0 740.9,49.8 743.8,50.6 745.9,52.4 746.6,55.0 747.1,57.4 748.3,59.7 750.5,58.9 752.8,58.3 754.5,56.4 755.5,54.2 756.3,52.2 757.0,50.0"/>
<polyline points="730.0,443.4 731.9,444.7 733.7,445.6 734.7,445.8 736.8,445.6 738.8,444.7 740.6,443.4 742.7,442.6 745.1,442.5 746.8,442.1 748.6,442.5 750.8,442.0 753.1,441.9 755.2,442.6 757.0,443.9 759.0,444.8 760.5,446.7 761.7,449.3 764.7,448.5 765.7,444.7 770.6,450.7 771.7,448.1 773.7,447.6 774.5,440.2 777.0,444.9 779.7,444.1 781.9,445.7 780.6,448.6 780.0,449.9 778.3,451.0 777.3,453.2 775.4,454.3 773.5,455.6 771.1,455.7 768.9,456.5 767.8,459.0 766.2,460.6 764.8,463.0 760.9,460.0 758.9,461.2 756.2,463.8 760.4,464.2 762.3,464.6 763.5,468.7 765.5,469.6 768.4,467.3 770.1,469.2 772.6,468.9 774.1,470.3 774.6,474.1 770.5,473.4 769.2,475.8 767.7,477.6 766.5,477.4 762.1,479.3 766.1,481.1 765.0,483.3 763.9,485.3 767.7,485.9 767.6,487.0 766.3,491.9 766.9,493.2 769.4,494.0 770.7,496.6 770.2,500.4 764.5,496.1 765.4,502.3 762.1,500.6 761.3,503.0 761.5,506.3 759.7,507.6 756.3,507.5 753.4,507.3 753.0,510.9 750.2,510.4 749.0,512.3 750.7,515.3 749.0,517.0 746.9,518.6 744.2,520.2 744.5,523.0 746.6,524.9"/>
<polyline points="748.8,515.0 744.3,516.5 749.8,519.8 749.6,522.1 747.7,523.9 749.5,526.8 745.0,527.7 746.5,530.8 743.3,531.5 741.4,532.9 740.1,535.0 741.1,537.3 739.2,538.9 743.1,542.3 740.6,543.3 738.1,543.9 738.5,547.6 735.0,547.0 736.5,549.7 729.1,551.5 733.6,552.5 734.2,554.6 732.9,556.6 731.5,558.3 726.9,558.0 732.7,562.8 725.4,561.9 724.9,564.4 724.9,567.1 725.3,569.2 725.0,570.9 724.7,573.2 725.9,575.3 725.4,577.7 722.8,581.1 730.8,578.7 727.8,584.9 731.3,583.5 732.4,586.2 731.4,586.7 731.0,587.2 733.1,590.2 735.6,594.1 731.9,594.7 729.7,595.9 727.9,597.4 725.9,597.1 722.8,599.9 722.0,595.7 721.4,591.9 719.3,590.9 714.7,596.6 713.3,595.4 712.1,594.1 708.1,593.4 712.5,595.9 710.7,598.2 710.9,600.7 710.1,603.3 711.4,604.2 713.0,605.3 712.4,607.6 711.0,609.4 708.7,610.2 706.0,610.5 702.7,611.5 701.2,615.1 702.9,616.5 702.5,617.2 702.0,619.6 698.8,617.5 697.2,619.2 697.7,624.8 695.2,625.0 693.0,625.5 690.3,624.6 687.6,624.5 688.2,630.3 684.1,626.2 683.1,628.6 681.2,627.6 679.0,627.1 679.4,627.8 681.0,629.3 681.3,630.6 679.1,628.9 678.4,630.7 676.4,631.8 674.4,633.4 672.6,634.8 670.6,635.4 669.0,636.8 667.8,638.6 667.6,640.8 667.8,643.5 666.5,645.8 671.4,646.5 670.9,648.6 670.9,652.6 668.6,654.1 665.0,651.7"/>
<polyline points="687.9,515.0 689.0,516.9 690.7,518.5 692.5,519.9 693.4,522.0 694.4,524.1 695.0,526.3 694.7,528.7 695.0,531.2 697.2,532.5 699.2,533.8 701.5,533.8 703.6,532.7 705.3,531.3 707.2,530.6 709.6,530.2 711.3,528.8 712.4,526.9 714.5,526.5 715.8,526.9 717.1,528.0 719.0,529.4 720.4,531.1 721.0,533.5 722.2,535.2 722.5,536.7 720.7,538.2 718.9,539.8 716.8,540.5 714.9,541.3 712.9,541.6 714.1,543.3 715.4,544.9 717.4,545.7 719.2,547.0 720.7,548.7 722.2,550.4 723.6,552.2 725.8,553.1 727.0,555.1 727.6,557.3"/>
<polyline points="723.2,536.2 725.3,535.3 727.4,534.3 729.5,533.3 731.6,532.4 733.8,531.6 735.4,530.9 736.7,532.2 741.0,530.3 740.8,534.4"/>
<polyline points="664.5,478.0 664.7,480.4 665.0,482.7 664.7,485.0 664.0,487.4 664.3,489.7 665.0,492.0"/>
<polyline points="775.7,454.0 774.2,454.9 772.8,453.9 775.7,454.0"/>
<polyline points="782.3,450.1 781.0,449.8 780.9,449.2 781.1,448.7 782.5,449.1 782.3,450.1"/>
<polyline points="770.9,443.5 768.8,443.5 769.1,443.4 769.0,442.7 769.3,442.4 770.9,443.5"/>
<polyline points="774.1,453.7 774.4,453.5 773.7,454.9 774.3,452.6 774.1,453.7"/>
<polyline points="769.0,448.2 768.0,448.7 767.0,447.8 768.2,447.7 769.0,448.2"/>
<polyline points="771.7,447.3 772.2,445.9 772.7,445.5 771.7,447.3"/>
<polyline points="774.8,448.9 773.6,449.4 771.4,447.4 771.2,447.3 772.6,446.0 774.8,448.9"/>
<polyline points="779.9,441.4 778.8,441.2 779.2,438.8 779.4,439.0 780.8,439.2 779.9,441.4"/>
<polyline points="776.2,447.2 775.9,445.8 778.3,444.8 776.2,447.2"/>
<polyline points="778.6,439.9 779.3,438.7 779.8,438.9 780.3,439.4 778.6,439.9"/>
<polyline points="769.1,450.1 770.0,448.9 770.3,449.7 771.0,449.5 769.1,450.1"/>
<polyline points="777.8,443.1 777.5,442.6 777.6,441.8 779.3,441.4 779.2,441.7 777.8,443.1"/>
<polyline points="777.9,439.3 777.3,439.8 776.8,438.4 778.1,438.6 777.8,438.7 777.9,439.3"/>
<polyline points="776.1,439.4 776.8,439.3 777.3,439.4 776.1,439.4"/>
<polyline points="775.4,448.8 775.1,449.0 774.1,449.7 773.8,450.2 773.2,446.6 775.4,448.8"/>
<polyline points="770.9,448.2 771.4,447.2 771.8,446.1 772.5,446.6 770.9,448.2"/>
<polyline points="763.7,468.5 763.8,468.3 765.1,467.4 763.7,468.5"/>
<polyline points="763.5,470.8 762.2,470.0 762.5,468.0 763.5,470.8"/>
<polyline points="769.2,472.4 767.6,472.5 767.5,472.0 768.9,471.5 769.2,471.7 769.2,472.4"/>
<polyline points="766.5,467.0 766.3,466.6 765.5,466.3 765.3,463.1 767.8,465.1 766.5,467.0"/>
<polyline points="769.5,469.6 770.1,469.7 769.4,467.3 769.5,469.6"/>
<polyline points="764.2,466.7 764.5,467.1 762.7,466.7 763.2,463.8 765.0,463.5 764.2,466.7"/>
<polyline points="761.6,471.0 759.4,468.4 761.1,467.8 762.9,467.3 761.6,471.0"/>
<polyline points="773.0,475.6 772.8,475.1 772.0,475.7 771.8,474.3 772.1,472.2 773.0,475.6"/>
<polyline points="775.7,469.9 775.3,469.5 775.3,466.7 775.4,466.7 775.7,469.9"/>
<polyline points="773.7,462.9 774.1,461.1 777.0,461.7 773.7,462.9"/>
<polyline points="772.0,468.9 771.6,469.5 769.2,469.4 771.8,466.9 772.6,467.5 772.0,468.9"/>
<polyline points="774.2,464.8 772.2,466.3 770.5,464.3 771.4,463.8 771.8,462.8 774.2,464.8"/>
<polyline points="773.8,473.7 772.3,474.4 771.6,473.9 772.3,472.8 773.8,473.7"/>
<polyline points="768.7,475.7 767.7,475.6 766.3,476.0 765.7,475.1 768.7,475.7"/>
<polyline points="759.3,515.4 758.7,515.1 758.9,514.1 758.7,513.7 759.3,515.4"/>
<polyline points="763.5,507.2 762.6,508.1 761.6,504.2 762.6,506.6 763.5,507.2"/>
<polyline points="760.4,497.6 760.6,498.5 761.3,498.5 760.4,497.6"/>
<polyline points="761.9,499.6 760.6,498.2 762.8,498.1 761.9,499.6"/>
<polyline points="758.4,512.9 757.3,512.9 759.8,511.3 758.4,512.9"/>
<polyline points="759.0,509.2 758.3,509.6 756.0,508.1 758.9,508.7 759.0,509.2"/>
<polyline points="756.4,512.4 755.2,511.4 754.5,510.9 754.7,509.8 755.9,509.9 756.4,512.4"/>
<polyline points="755.9,510.5 755.7,510.9 755.5,508.2 755.9,510.5"/>
<polyline points="756.9,502.8 754.9,502.7 755.1,501.4 755.6,501.1 755.9,501.6 756.9,502.8"/>
<polyline points="769.8,426.0 770.5,425.4 770.5,425.7 769.8,426.0"/>
<polyline points="777.2,424.0 775.3,423.9 776.6,422.9 776.9,423.7 777.2,424.0"/>
<polyline points="782.1,421.5 782.1,421.3 782.6,420.8 782.1,421.5"/>
<polyline points="788.8,419.6 787.9,419.3 787.8,419.1 788.6,418.7 788.9,419.0 788.8,419.6"/>
<polyline points="786.9,436.5 786.6,436.4 786.6,435.5 787.2,435.5 787.3,435.4 786.9,436.5"/>
<polyline points="791.3,438.6 790.6,438.8 790.4,438.5 791.3,438.6"/>
<polyline points="778.7,480.9 778.2,481.2 778.1,481.2 778.7,480.9"/>
<polyline points="773.1,487.4 774.3,486.4 774.4,486.6 773.1,487.4"/>
<polyline points="737.6,532.4 736.3,532.5 737.1,531.7 737.6,532.4"/>
<polyline points="740.1,538.2 740.0,538.1 739.1,538.6 738.7,538.7 739.3,537.5 740.1,538.2"/>
<polyline points="744.8,531.4 744.7,532.1 745.0,532.1 744.2,532.6 742.3,531.5 744.8,531.4"/>
<polyline points="740.9,537.1 740.1,536.5 740.8,535.3 742.2,535.1 742.4,535.3 740.9,537.1"/>
<polyline points="741.2,529.2 741.0,529.9 740.7,530.2 740.7,527.7 741.0,528.9 741.2,529.2"/>
<polyline points="744.2,534.7 743.7,533.9 746.1,534.2 744.2,534.7"/>
<polyline points="739.8,530.5 741.6,528.8 741.9,529.2 739.8,530.5"/>
<polyline points="740.4,539.3 741.2,538.1 742.0,538.5 740.4,539.3"/>
<polyline points="734.3,553.1 733.3,550.0 732.6,550.0 734.7,549.5 734.3,553.1"/>
<polyline points="738.0,555.3 735.7,554.8 735.3,552.6 736.0,552.8 737.5,551.4 738.0,555.3"/>
<polyline points="735.3,551.1 734.5,550.8 734.2,551.0 733.3,550.8 733.3,550.3 735.3,551.1"/>
<polyline points="735.7,548.6 735.0,549.0 734.3,548.8 737.4,545.8 737.7,545.7 735.7,548.6"/>
<polyline points="735.4,549.0 735.4,548.8 737.2,546.5 738.0,547.9 735.4,549.0"/>
<polyline points="738.4,548.3 735.8,549.6 735.0,548.7 737.1,546.0 738.4,548.3"/>
<polyline points="739.2,551.8 739.1,552.2 738.5,551.9 737.1,551.4 739.2,551.8"/>
<polyline points="739.6,555.4 738.8,554.9 737.5,554.8 739.6,555.4"/>
<polyline points="732.4,573.9 730.7,576.2 728.6,574.3 729.6,572.9 732.4,573.9"/>
<polyline points="725.3,578.3 724.3,578.5 723.3,577.4 725.2,574.5 727.3,576.0 725.3,578.3"/>
<polyline points="729.8,574.0 729.8,574.5 726.8,573.9 727.9,571.8 729.8,574.0"/>
<polyline points="726.5,574.8 728.3,573.9 729.1,574.6 729.2,574.1 726.5,574.8"/>
<polyline points="731.7,576.4 731.7,576.7 728.7,577.4 729.1,574.7 731.7,576.4"/>
<polyline points="731.9,571.1 731.3,570.8 729.9,569.9 731.9,571.1"/>
<polyline points="716.0,596.6 716.2,595.7 717.9,595.3 716.0,596.6"/>
<polyline points="721.1,599.0 720.4,598.8 719.0,597.2 720.1,597.3 721.1,599.0"/>
<polyline points="721.9,599.0 721.8,598.9 721.6,598.2 721.9,598.0 722.3,598.1 721.9,599.0"/>
<polyline points="724.7,594.5 723.9,594.1 723.3,593.2 724.7,594.5"/>
<polyline points="727.3,602.8 725.8,603.0 725.2,601.4 727.3,601.9 727.3,602.8"/>
<polyline points="726.2,598.0 725.7,598.2 724.6,597.9 726.2,598.0"/>
<polyline points="722.6,601.0 720.2,600.7 722.3,599.7 722.6,601.0"/>
<polyline points="725.2,597.9 724.2,598.4 724.4,596.9 725.2,597.2 725.2,597.9"/>
<polyline points="728.9,603.2 727.7,602.3 727.7,600.7 728.9,603.2"/>
<polyline points="725.3,594.7 723.2,595.4 723.2,594.7 722.8,594.3 725.3,594.7"/>
<polyline points="716.9,599.6 717.4,598.0 717.7,598.0 718.1,598.2 716.9,599.6"/>
<polyline points="726.5,598.7 725.3,599.4 725.1,599.6 726.5,598.7"/>
<polyline points="708.7,610.4 709.1,609.8 712.0,607.9 713.0,609.2 708.7,610.4"/>
<polyline points="702.5,607.0 701.4,606.2 701.6,606.1 703.0,604.6 702.5,607.0"/>
<polyline points="702.6,613.2 701.1,610.7 704.6,609.0 702.6,613.2"/>
<polyline points="705.2,611.0 704.8,611.2 704.2,609.2 704.6,609.6 705.1,609.3 705.2,611.0"/>
<polyline points="710.6,608.4 710.3,609.1 708.5,605.5 710.6,608.4"/>
<polyline points="705.9,611.5 701.8,610.2 703.2,610.1 706.0,610.6 706.3,611.1 705.9,611.5"/>
<polyline points="702.8,613.2 702.2,613.4 703.1,609.1 703.9,610.4 702.8,613.2"/>
<polyline points="709.5,616.0 707.2,616.6 707.2,613.5 709.5,616.0"/>
<polyline points="696.2,630.6 696.7,629.5 696.8,629.6 696.2,630.6"/>
<polyline points="699.2,632.3 697.2,630.6 698.5,629.7 698.9,629.2 699.2,632.3"/>
<polyline points="694.7,627.3 693.4,628.3 691.7,625.5 695.6,626.4 694.7,627.3"/>
<polyline points="695.4,630.2 694.9,629.8 695.7,628.6 695.9,629.1 696.8,629.5 695.4,630.2"/>
<polyline points="694.9,629.2 693.9,627.5 694.8,628.4 694.9,629.2"/>
<polyline points="694.8,625.0 694.6,624.6 694.5,624.9 695.4,622.7 696.0,623.7 694.8,625.0"/>
<polyline points="697.8,631.1 696.4,630.7 696.4,630.4 697.8,631.1"/>
<polyline points="693.4,628.8 690.6,626.1 692.8,626.2 693.4,628.8"/>
<polyline points="684.5,644.1 682.8,644.6 682.9,642.5 684.8,642.2 684.5,644.1"/>
<polyline points="687.8,640.9 684.8,641.2 685.2,640.9 683.9,640.4 686.0,638.7 687.8,640.9"/>
<polyline points="677.1,640.3 677.2,639.8 677.2,639.7 677.5,639.9 677.4,639.2 677.1,640.3"/>
<polyline points="678.0,637.6 678.8,637.8 680.4,637.7 678.0,637.6"/>
<polyline points="683.6,641.4 682.5,640.1 683.2,640.0 683.6,641.4"/>
<polyline points="676.7,643.8 675.5,640.8 675.7,640.6 676.7,643.8"/>
<polyline points="680.1,640.1 679.5,639.7 679.3,638.8 679.5,637.9 679.8,638.4 680.1,640.1"/>
<polyline points="669.9,647.8 671.8,647.8 671.7,647.8 669.9,647.8"/>
<polyline points="672.4,655.4 671.2,654.9 671.1,654.6 672.4,655.4"/>
<polyline points="675.2,652.1 675.2,649.6 675.5,649.6 675.5,649.4 675.6,649.6 675.2,652.1"/>
<polyline points="671.1,653.1 671.7,652.7 672.8,653.1 673.0,653.9 671.1,653.1"/>
<polyline points="671.5,650.9 671.2,651.1 670.1,648.7 670.0,648.3 670.4,648.3 671.5,650.9"/>
<polyline points="669.7,649.8 668.7,649.4 668.3,648.2 669.3,647.4 669.7,649.8"/>
<polyline points="659.7,663.1 658.9,663.7 659.8,662.1 659.6,662.5 659.7,663.1"/>
<polyline points="650.2,663.7 650.6,661.4 650.7,661.9 650.2,663.7"/>
<polyline points="651.9,659.7 652.0,659.6 653.3,659.4 651.9,659.7"/>
<polyline points="650.5,663.2 649.2,663.4 649.3,663.2 650.1,663.0 650.5,663.2"/>
<polyline points="652.5,665.0 651.2,664.5 650.2,663.3 651.2,662.7 652.5,665.0"/>
<polyline points="608.2,691.9 607.6,689.9 608.5,690.7 608.7,690.7 608.3,691.0 608.2,691.9"/>
<polyline points="604.8,692.8 603.4,693.0 602.8,692.9 604.4,691.2 604.8,692.8"/>
<polyline points="590.3,689.9 589.5,688.6 589.6,688.2 590.3,689.9"/>
<polyline points="604.6,693.7 604.7,692.6 605.8,692.9 605.7,692.9 604.6,693.7"/>
<polyline points="597.0,689.8 596.2,690.7 596.1,690.6 594.6,689.8 596.3,689.3 597.0,689.8"/>
<polyline points="600.3,693.8 600.1,693.9 599.8,694.0 599.7,692.8 600.3,693.8"/>
<polyline points="563.9,703.9 563.1,704.3 563.8,703.6 563.9,703.9"/>
<polyline points="566.7,705.5 566.3,705.2 567.8,704.5 566.7,705.5"/>
<polyline points="567.2,705.4 568.3,704.4 568.3,704.3 569.0,704.0 567.2,705.4"/>
<polyline points="565.1,706.3 562.8,705.1 564.8,704.4 565.1,706.3"/>
<polyline points="567.8,709.6 567.5,709.9 568.0,709.0 568.0,708.1 568.0,708.4 567.8,709.6"/>
<polyline points="566.4,705.2 564.6,703.8 565.4,703.5 566.4,705.2"/>
<polyline points="569.3,705.6 568.9,705.7 567.5,705.3 568.4,702.8 569.3,705.6"/>
<polyline points="545.4,718.2 544.9,716.4 545.1,715.8 545.4,715.7 545.4,718.2"/>
<polyline points="550.2,712.9 548.6,713.5 548.7,711.5 549.7,711.3 550.2,711.9 550.2,712.9"/>
<polyline points="552.2,710.5 550.2,710.2 552.8,710.2 552.2,710.5"/>
<polyline points="545.3,716.5 544.6,716.3 545.1,714.8 545.3,716.5"/>
<polyline points="547.6,709.2 546.5,709.5 545.6,709.4 548.1,708.1 547.6,709.2"/>
<polyline points="550.3,707.7 549.5,709.0 547.4,708.5 547.2,708.1 548.3,706.3 550.3,707.7"/>
<polyline points="548.7,711.2 546.2,712.2 547.0,710.1 547.3,709.5 548.7,711.2"/>
<polyline points="547.1,712.7 546.3,712.2 546.5,711.0 546.7,711.2 547.5,711.2 547.1,712.7"/>
<polyline points="549.9,714.9 549.5,714.9 548.3,713.9 548.9,713.1 549.2,712.7 549.9,714.9"/>
<polyline points="543.7,715.4 543.9,714.5 544.0,714.3 544.0,714.3 543.7,715.4"/>
<polyline points="528.3,725.4 530.0,723.2 530.7,723.8 530.2,724.1 528.3,725.4"/>
<polyline points="530.5,721.1 529.5,721.2 529.8,719.9 530.6,720.5 530.5,721.1"/>
<polyline points="522.0,724.4 521.6,725.1 520.7,725.4 519.5,723.8 521.0,723.8 522.0,724.4"/>
<polyline points="521.5,720.3 520.6,719.2 522.3,718.7 522.7,719.3 521.5,720.3"/>
<polyline points="530.0,720.3 530.1,720.3 530.2,719.9 531.3,720.5 530.0,720.3"/>
<polyline points="531.1,723.6 531.6,722.4 533.0,722.0 532.9,722.4 533.0,722.5 531.1,723.6"/>
<polyline points="520.6,724.9 519.6,723.7 520.3,724.3 520.6,724.9"/>
<polyline points="521.1,723.7 520.4,723.3 519.9,723.2 521.5,722.4 522.0,722.8 521.1,723.7"/>
<polyline points="494.4,731.3 493.8,730.9 493.9,728.4 494.2,728.3 495.0,728.6 494.4,731.3"/>
<polyline points="494.0,726.2 491.0,726.6 493.5,724.9 494.0,726.2"/>
<polyline points="505.1,724.3 505.3,724.1 506.3,724.2 505.1,724.3"/>
<polyline points="495.9,728.8 495.1,729.3 494.7,726.3 495.9,728.8"/>
<polyline points="501.0,731.8 499.0,731.0 499.4,730.5 500.4,729.1 500.7,729.4 501.0,731.8"/>
<polyline points="498.8,727.2 498.9,726.9 498.7,726.4 500.7,725.8 500.4,726.1 498.8,727.2"/>
<polyline points="495.2,724.1 495.0,723.5 495.3,723.3 496.3,722.3 495.2,724.1"/>
<polyline points="500.9,730.5 500.2,729.2 500.6,728.7 501.1,728.5 501.2,728.7 500.9,730.5"/>
<polyline points="448.8,742.5 448.1,740.6 448.0,740.3 449.1,739.8 449.6,739.8 448.8,742.5"/>
<polyline points="447.7,737.7 447.5,737.8 449.0,738.5 449.6,738.6 447.7,737.7"/>
<polyline points="461.0,739.9 461.9,739.0 462.3,738.4 462.9,739.1 463.1,739.7 461.0,739.9"/>
<polyline points="459.4,742.5 459.3,743.0 458.7,743.0 458.8,742.0 459.5,742.0 459.4,742.5"/>
<polyline points="454.8,742.4 454.6,742.5 454.5,742.4 454.4,741.9 455.0,740.9 454.8,742.4"/>
<polyline points="455.4,741.4 454.8,741.8 454.4,741.5 454.1,741.1 455.4,741.4"/>
<polyline points="452.9,739.4 454.1,739.2 454.3,739.4 452.9,739.4"/>
<polyline points="449.7,739.5 449.6,739.4 449.4,739.2 449.3,739.4 449.7,739.5"/>
<polyline points="447.0,748.6 447.3,749.0 444.9,749.1 447.1,747.4 447.2,748.4 447.0,748.6"/>
<polyline points="450.2,746.2 447.9,745.1 450.6,744.1 450.2,746.2"/>
<polyline points="441.7,747.3 443.4,745.2 445.2,745.9 445.7,746.3 441.7,747.3"/>
<polyline points="447.3,746.3 446.0,747.0 445.3,746.8 444.2,744.7 444.4,743.9 447.3,746.3"/>
<polyline points="448.4,746.3 448.4,745.4 449.1,745.4 448.4,746.3"/>
<polyline points="448.1,745.7 448.2,745.7 449.9,745.8 448.1,745.7"/>
<polyline points="408.7,739.2 407.7,738.9 409.2,738.1 408.7,739.2"/>
<polyline points="401.1,732.4 400.9,731.7 400.5,730.9 402.1,730.1 401.1,732.4"/>
<polyline points="405.8,734.7 405.5,735.1 405.3,734.8 405.0,733.1 405.8,734.7"/>
<polyline points="405.5,737.6 405.2,739.0 405.9,736.7 405.5,737.6"/>
<polyline points="397.1,737.2 397.2,737.2 395.6,737.0 396.5,736.6 397.1,737.2"/>
<polyline points="412.6,734.9 411.8,733.3 412.1,732.2 411.4,732.0 413.6,732.4 412.6,734.9"/>
<polyline points="398.1,735.8 396.3,734.8 396.5,733.4 398.1,735.8"/>
<polyline points="409.6,736.8 410.1,736.5 410.5,736.6 409.6,736.8"/>
<polyline points="397.3,734.3 395.6,734.4 396.6,732.0 397.3,734.3"/>
<polyline points="403.7,739.8 402.7,737.8 403.8,737.6 405.0,738.4 405.6,738.5 403.7,739.8"/>
<polyline points="398.2,736.9 398.0,737.8 396.4,737.4 396.6,736.0 398.2,736.9"/>
<polyline points="413.0,731.7 413.3,732.1 413.0,732.1 411.2,731.4 412.7,730.9 413.0,731.7"/>
<polyline points="412.2,737.5 411.3,738.1 410.5,738.1 410.1,736.8 410.8,736.3 412.2,737.5"/>
<polyline points="408.9,736.5 408.5,737.2 408.1,734.3 408.6,733.4 410.5,734.6 408.9,736.5"/>
<polyline points="420.6,743.9 420.2,744.0 419.7,742.2 421.0,742.8 420.6,743.9"/>
<polyline points="427.3,742.3 428.5,742.0 428.9,742.9 427.3,742.3"/>
<polyline points="424.5,742.1 421.0,740.6 422.5,738.6 424.7,739.9 424.5,742.1"/>
<polyline points="426.1,740.0 421.1,740.5 421.3,740.3 421.7,739.1 426.1,740.0"/>
<polyline points="421.0,741.1 420.7,740.5 420.0,739.9 421.2,739.0 421.0,741.1"/>
<polyline points="425.0,746.4 423.5,746.5 424.1,743.1 424.8,743.8 425.5,744.5 425.0,746.4"/>
</g>
<g fill="none" stroke="#8b14ee" stroke-width="2">
<circle cx="459.0" cy="159.5" r="5"/>
<circle cx="326.5" cy="232.0" r="5"/>
<circle cx="486.5" cy="245.0" r="5"/>
<circle cx="536.5" cy="235.5" r="5"/>
<circle cx="258.5" cy="303.0" r="5"/>
<circle cx="523.0" cy="334.5" r="5"/>
<circle cx="398.0" cy="356.0" r="5"/>
<circle cx="734.0" cy="95.0" r="5"/>
<circle cx="577.5" cy="176.0" r="5"/>
<circle cx="599.5" cy="197.0" r="5"/>
<circle cx="605.0" cy="270.5" r="5"/>
<circle cx="630.0" cy="411.0" r="5"/>
<circle cx="671.0" cy="399.5" r="5"/>
<circle cx="748.5" cy="411.5" r="5"/>
<circle cx="261.5" cy="462.0" r="5"/>
<circle cx="331.5" cy="496.5" r="5"/>
<circle cx="522.0" cy="530.0" r="5"/>
<circle cx="336.5" cy="584.5" r="5"/>
<circle cx="213.5" cy="627.0" r="5"/>
<circle cx="542.0" cy="678.5" r="5"/>
<circle cx="387.5" cy="695.0" r="5"/>
<circle cx="718.5" cy="446.0" r="5"/>
<circle cx="553.5" cy="458.5" r="5"/>
<circle cx="604.5" cy="508.5" r="5"/>
<circle cx="714.5" cy="573.0" r="5"/>
</g>
<rect x="207.5" y="49.9" width="685.4" height="700" fill="none" stroke="#000" stroke-width="2"/>
<g stroke="#000" stroke-width="1.2">
<line x1="197" y1="64.45" x2="207" y2="64.45"/>
<line x1="197" y1="153.45" x2="207" y2="153.45"/>
<line x1="197" y1="242.45" x2="207" y2="242.45"/>
<line x1="197" y1="331.45" x2="207" y2="331.45"/>
<line x1="197" y1="420.45" x2="207" y2="420.45"/>
<line x1="197" y1="509.45" x2="207" y2="509.45"/>
<line x1="197" y1="598.45" x2="207" y2="598.45"/>
<line x1="197" y1="687.45" x2="207" y2="687.45"/>
<line x1="215.4" y1="750.5" x2="215.4" y2="760.8"/>
<line x1="313.5" y1="750.5" x2="313.5" y2="760.8"/>
<line x1="411.1" y1="750.5" x2="411.1" y2="760.8"/>
<line x1="508.4" y1="750.5" x2="508.4" y2="760.8"/>
<line x1="606.0" y1="750.5" x2="606.0" y2="760.8"/>
<line x1="703.3" y1="750.5" x2="703.3" y2="760.8"/>
<line x1="801.3" y1="750.5" x2="801.3" y2="760.8"/>
<line x1="892.3" y1="750.5" x2="892.3" y2="760.8"/>
</g>
<text class="r" text-anchor="middle" font-size="21"><tspan x="151.3" y="72.2">4</tspan><tspan x="164.5" y="72.2">4</tspan><tspan x="174.4" y="69.9" font-size="15.5">&#176;</tspan><tspan x="185.0" y="72.2" textLength="12.13" lengthAdjust="spacingAndGlyphs">N</tspan></text>
<text class="r" text-anchor="middle" font-size="21"><tspan x="151.3" y="161.1">4</tspan><tspan x="164.5" y="161.1">1</tspan><tspan x="174.4" y="158.8" font-size="15.5">&#176;</tspan><tspan x="185.0" y="161.1" textLength="12.13" lengthAdjust="spacingAndGlyphs">N</tspan></text>
<text class="r" text-anchor="middle" font-size="21"><tspan x="151.3" y="250.1">3</tspan><tspan x="164.5" y="250.1">8</tspan><tspan x="174.4" y="247.8" font-size="15.5">&#176;</tspan><tspan x="185.0" y="250.1" textLength="12.13" lengthAdjust="spacingAndGlyphs">N</tspan></text>
<text class="r" text-anchor="middle" font-size="21"><tspan x="151.3" y="339.1">3</tspan><tspan x="164.5" y="339.1">5</tspan><tspan x="174.4" y="336.8" font-size="15.5">&#176;</tspan><tspan x="185.0" y="339.1" textLength="12.13" lengthAdjust="spacingAndGlyphs">N</tspan></text>
<text class="r" text-anchor="middle" font-size="21"><tspan x="151.3" y="428.1">3</tspan><tspan x="164.5" y="428.1">2</tspan><tspan x="174.4" y="425.8" font-size="15.5">&#176;</tspan><tspan x="185.0" y="428.1" textLength="12.13" lengthAdjust="spacingAndGlyphs">N</tspan></text>
<text class="r" text-anchor="middle" font-size="21"><tspan x="151.3" y="517.1">2</tspan><tspan x="164.5" y="517.1">9</tspan><tspan x="174.4" y="514.9" font-size="15.5">&#176;</tspan><tspan x="185.0" y="517.1" textLength="12.13" lengthAdjust="spacingAndGlyphs">N</tspan></text>
<text class="r" text-anchor="middle" font-size="21"><tspan x="151.3" y="606.2">2</tspan><tspan x="164.5" y="606.2">6</tspan><tspan x="174.4" y="603.9" font-size="15.5">&#176;</tspan><tspan x="185.0" y="606.2" textLength="12.13" lengthAdjust="spacingAndGlyphs">N</tspan></text>
<text class="r" text-anchor="middle" font-size="21"><tspan x="151.3" y="695.2">2</tspan><tspan x="164.5" y="695.2">3</tspan><tspan x="174.4" y="692.9" font-size="15.5">&#176;</tspan><tspan x="185.0" y="695.2" textLength="12.13" lengthAdjust="spacingAndGlyphs">N</tspan></text>
<text class="r" text-anchor="middle" font-size="21"><tspan x="202.2" y="783.0">1</tspan><tspan x="214.9" y="783.0">0</tspan><tspan x="228.0" y="783.0">3</tspan><tspan x="237.4" y="780.7" font-size="15.5">&#176;</tspan><tspan x="246.7" y="783.0" textLength="11.29" lengthAdjust="spacingAndGlyphs">E</tspan></text>
<text class="r" text-anchor="middle" font-size="21"><tspan x="300.3" y="783.0">1</tspan><tspan x="313.0" y="783.0">0</tspan><tspan x="326.1" y="783.0">6</tspan><tspan x="335.5" y="780.7" font-size="15.5">&#176;</tspan><tspan x="344.8" y="783.0" textLength="11.29" lengthAdjust="spacingAndGlyphs">E</tspan></text>
<text class="r" text-anchor="middle" font-size="21"><tspan x="397.9" y="783.0">1</tspan><tspan x="410.6" y="783.0">0</tspan><tspan x="423.7" y="783.0">9</tspan><tspan x="433.1" y="780.7" font-size="15.5">&#176;</tspan><tspan x="442.4" y="783.0" textLength="11.29" lengthAdjust="spacingAndGlyphs">E</tspan></text>
<text class="r" text-anchor="middle" font-size="21"><tspan x="495.2" y="783.0">1</tspan><tspan x="507.9" y="783.0">1</tspan><tspan x="521.0" y="783.0">2</tspan><tspan x="530.4" y="780.7" font-size="15.5">&#176;</tspan><tspan x="539.7" y="783.0" textLength="11.29" lengthAdjust="spacingAndGlyphs">E</tspan></text>
<text class="r" text-anchor="middle" font-size="21"><tspan x="592.8" y="783.0">1</tspan><tspan x="605.5" y="783.0">1</tspan><tspan x="618.6" y="783.0">5</tspan><tspan x="628.0" y="780.7" font-size="15.5">&#176;</tspan><tspan x="637.3" y="783.0" textLength="11.29" lengthAdjust="spacingAndGlyphs">E</tspan></text>
<text class="r" text-anchor="middle" font-size="21"><tspan x="690.1" y="783.0">1</tspan><tspan x="702.8" y="783.0">1</tspan><tspan x="715.9" y="783.0">8</tspan><tspan x="725.3" y="780.7" font-size="15.5">&#176;</tspan><tspan x="734.6" y="783.0" textLength="11.29" lengthAdjust="spacingAndGlyphs">E</tspan></text>
<text class="r" text-anchor="middle" font-size="21"><tspan x="788.1" y="783.0">1</tspan><tspan x="800.8" y="783.0">2</tspan><tspan x="813.9" y="783.0">1</tspan><tspan x="823.3" y="780.7" font-size="15.5">&#176;</tspan><tspan x="832.6" y="783.0" textLength="11.29" lengthAdjust="spacingAndGlyphs">E</tspan></text>
<text class="r" text-anchor="middle" font-size="21"><tspan x="879.1" y="783.0">1</tspan><tspan x="891.8" y="783.0">2</tspan><tspan x="904.9" y="783.0">4</tspan><tspan x="914.3" y="780.7" font-size="15.5">&#176;</tspan><tspan x="923.6" y="783.0" textLength="11.29" lengthAdjust="spacingAndGlyphs">E</tspan></text>
<text class="t" text-anchor="middle" font-size="24"><tspan x="177.0" y="33.8">2</tspan><tspan x="190.8" y="33.8">0</tspan><tspan x="204.6" y="33.8">2</tspan><tspan x="218.7" y="33.8">5</tspan><tspan x="240.1" y="32.8">年</tspan><tspan x="257.5" y="33.8">1</tspan><tspan x="271.2" y="33.8">0</tspan><tspan x="289.9" y="32.8">月</tspan><tspan x="312.6" y="33.8">1</tspan><tspan x="326.9" y="33.8">7</tspan><tspan x="345.3" y="32.8" textLength="18.72" lengthAdjust="spacingAndGlyphs">日</tspan><tspan x="365.2" y="33.8" textLength="14.95" lengthAdjust="spacingAndGlyphs">W</tspan><tspan x="379.8" y="33.8" textLength="13.61" lengthAdjust="spacingAndGlyphs">R</tspan><tspan x="393.8" y="33.8" textLength="11.48" lengthAdjust="spacingAndGlyphs">F</tspan><tspan x="408.7" y="38.1" font-size="33.1" textLength="11.92" lengthAdjust="spacingAndGlyphs">/</tspan><tspan x="423.5" y="33.8" font-size="26.9">c</tspan><tspan x="442.3" y="33.8" font-size="26.9" textLength="22.47" lengthAdjust="spacingAndGlyphs">m</tspan><tspan x="461.5" y="33.8" font-size="26.9">a</tspan><tspan x="475.0" y="33.8" font-size="26.9" textLength="12.15" lengthAdjust="spacingAndGlyphs">q</tspan><tspan x="493.0" y="32.8">模</tspan><tspan x="517.7" y="32.8">式</tspan><tspan x="537.5" y="33.8">1</tspan><tspan x="551.8" y="33.8">2</tspan><tspan x="566.0" y="33.8" font-size="26.9">k</tspan><tspan x="584.3" y="33.8" font-size="26.9" textLength="22.47" lengthAdjust="spacingAndGlyphs">m</tspan><tspan x="607.3" y="32.8">预</tspan><tspan x="630.8" y="32.8">报</tspan><tspan x="655.3" y="32.8">产</tspan><tspan x="678.9" y="32.8" textLength="20.40" lengthAdjust="spacingAndGlyphs">品</tspan><tspan x="694.5" y="33.8">:</tspan><tspan x="706.5" y="33.8">1</tspan><tspan x="720.1" y="33.8">0</tspan><tspan x="740.4" y="32.8">月</tspan><tspan x="762.3" y="33.8">1</tspan><tspan x="776.4" y="33.8">7</tspan><tspan x="795.0" y="32.8" textLength="18.72" lengthAdjust="spacingAndGlyphs">日</tspan><tspan x="812.7" y="33.8">1</tspan><tspan x="825.9" y="33.8">4</tspan><tspan x="846.8" y="32.8">时</tspan></text>
<text class="r" text-anchor="middle" font-size="24.2"><tspan x="878.4" y="33.9" textLength="14.18" lengthAdjust="spacingAndGlyphs">V</tspan><tspan x="891.4" y="33.9" textLength="7.11" lengthAdjust="spacingAndGlyphs">I</tspan><tspan x="903.4" y="33.9" textLength="14.97" lengthAdjust="spacingAndGlyphs">S</tspan></text>
<text class="t" text-anchor="middle" font-size="19.5"><tspan x="370.0" y="808.5">版</tspan><tspan x="390.3" y="808.5">权</tspan><tspan x="410.0" y="808.5">所</tspan><tspan x="429.3" y="808.5">有</tspan><tspan x="443.5" y="808.5">:</tspan><tspan x="462.6" y="808.5">南</tspan><tspan x="482.5" y="808.5">京</tspan><tspan x="502.4" y="808.5">大</tspan><tspan x="521.8" y="808.5">学</tspan></text>
<line x1="534.7" y1="788.6" x2="534.7" y2="817.8" stroke="#000" stroke-width="1.2"/>
<text class="t" text-anchor="middle" font-size="19.5"><tspan x="554.0" y="808.5">南</tspan><tspan x="573.9" y="808.5">京</tspan><tspan x="593.8" y="808.5">创</tspan><tspan x="613.7" y="808.5">蓝</tspan><tspan x="633.5" y="808.5">科</tspan><tspan x="653.4" y="808.5">技</tspan><tspan x="673.2" y="808.5">有</tspan><tspan x="693.1" y="808.5">限</tspan><tspan x="712.9" y="808.5">公</tspan><tspan x="732.8" y="808.5">司</tspan></text>
<rect x="956.7" y="127.30" width="39.7" height="51.20" fill="#92d050" stroke="#000" stroke-width="1"/>
<rect x="956.7" y="178.50" width="39.7" height="49.47" fill="#70ad37" stroke="#000" stroke-width="1"/>
<rect x="956.7" y="227.97" width="39.7" height="49.47" fill="#f5f96a" stroke="#000" stroke-width="1"/>
<rect x="956.7" y="277.44" width="39.7" height="49.47" fill="#ffeb00" stroke="#000" stroke-width="1"/>
<rect x="956.7" y="326.91" width="39.7" height="49.47" fill="#ffb028" stroke="#000" stroke-width="1"/>
<rect x="956.7" y="376.38" width="39.7" height="49.47" fill="#ff8c00" stroke="#000" stroke-width="1"/>
<rect x="956.7" y="425.85" width="39.7" height="49.47" fill="#f8305a" stroke="#000" stroke-width="1"/>
<rect x="956.7" y="475.32" width="39.7" height="49.47" fill="#ff0000" stroke="#000" stroke-width="1"/>
<rect x="956.7" y="524.79" width="39.7" height="49.47" fill="#c71585" stroke="#000" stroke-width="1"/>
<rect x="956.7" y="574.26" width="39.7" height="49.47" fill="#b03060" stroke="#000" stroke-width="1"/>
<rect x="956.7" y="623.73" width="39.7" height="49.47" fill="#9932cc" stroke="#000" stroke-width="1"/>
<rect x="956.7" y="673.20" width="39.7" height="50.40" fill="#8a2be2" stroke="#000" stroke-width="1"/>
<text class="t" text-anchor="middle" font-size="22.5"><tspan x="1008.5" y="185.7">1</tspan><tspan x="1022.2" y="185.7">0</tspan></text>
<text class="t" text-anchor="middle" font-size="22.5"><tspan x="1008.5" y="235.2">8</tspan></text>
<text class="t" text-anchor="middle" font-size="22.5"><tspan x="1008.5" y="284.6">6</tspan></text>
<text class="t" text-anchor="middle" font-size="22.5"><tspan x="1008.5" y="334.1">4</tspan></text>
<text class="t" text-anchor="middle" font-size="22.5"><tspan x="1008.5" y="383.6">2</tspan></text>
<text class="t" text-anchor="middle" font-size="22.5"><tspan x="1008.5" y="433.1">1</tspan></text>
<text class="t" text-anchor="middle" font-size="22.5"><tspan x="1008.2" y="482.5">0</tspan><tspan x="1018.0" y="482.5">.</tspan><tspan x="1029.7" y="482.5">8</tspan></text>
<text class="t" text-anchor="middle" font-size="22.5"><tspan x="1008.2" y="532.0">0</tspan><tspan x="1018.0" y="532.0">.</tspan><tspan x="1029.7" y="532.0">6</tspan></text>
<text class="t" text-anchor="middle" font-size="22.5"><tspan x="1008.2" y="581.5">0</tspan><tspan x="1018.0" y="581.5">.</tspan><tspan x="1029.7" y="581.5">4</tspan></text>
<text class="t" text-anchor="middle" font-size="22.5"><tspan x="1008.2" y="630.9">0</tspan><tspan x="1018.0" y="630.9">.</tspan><tspan x="1029.7" y="630.9">2</tspan></text>
<text class="t" text-anchor="middle" font-size="22.5"><tspan x="1008.2" y="680.4">0</tspan><tspan x="1018.0" y="680.4">.</tspan><tspan x="1029.7" y="680.4">1</tspan></text>
<text class="t" text-anchor="middle" font-size="22.5"><tspan x="945.0" y="108.0">(</tspan><tspan x="955.5" y="108.0" textLength="12.38" lengthAdjust="spacingAndGlyphs">k</tspan><tspan x="973.3" y="108.0">m</tspan><tspan x="988.5" y="108.0">)</tspan></text>
</svg></body></html>
